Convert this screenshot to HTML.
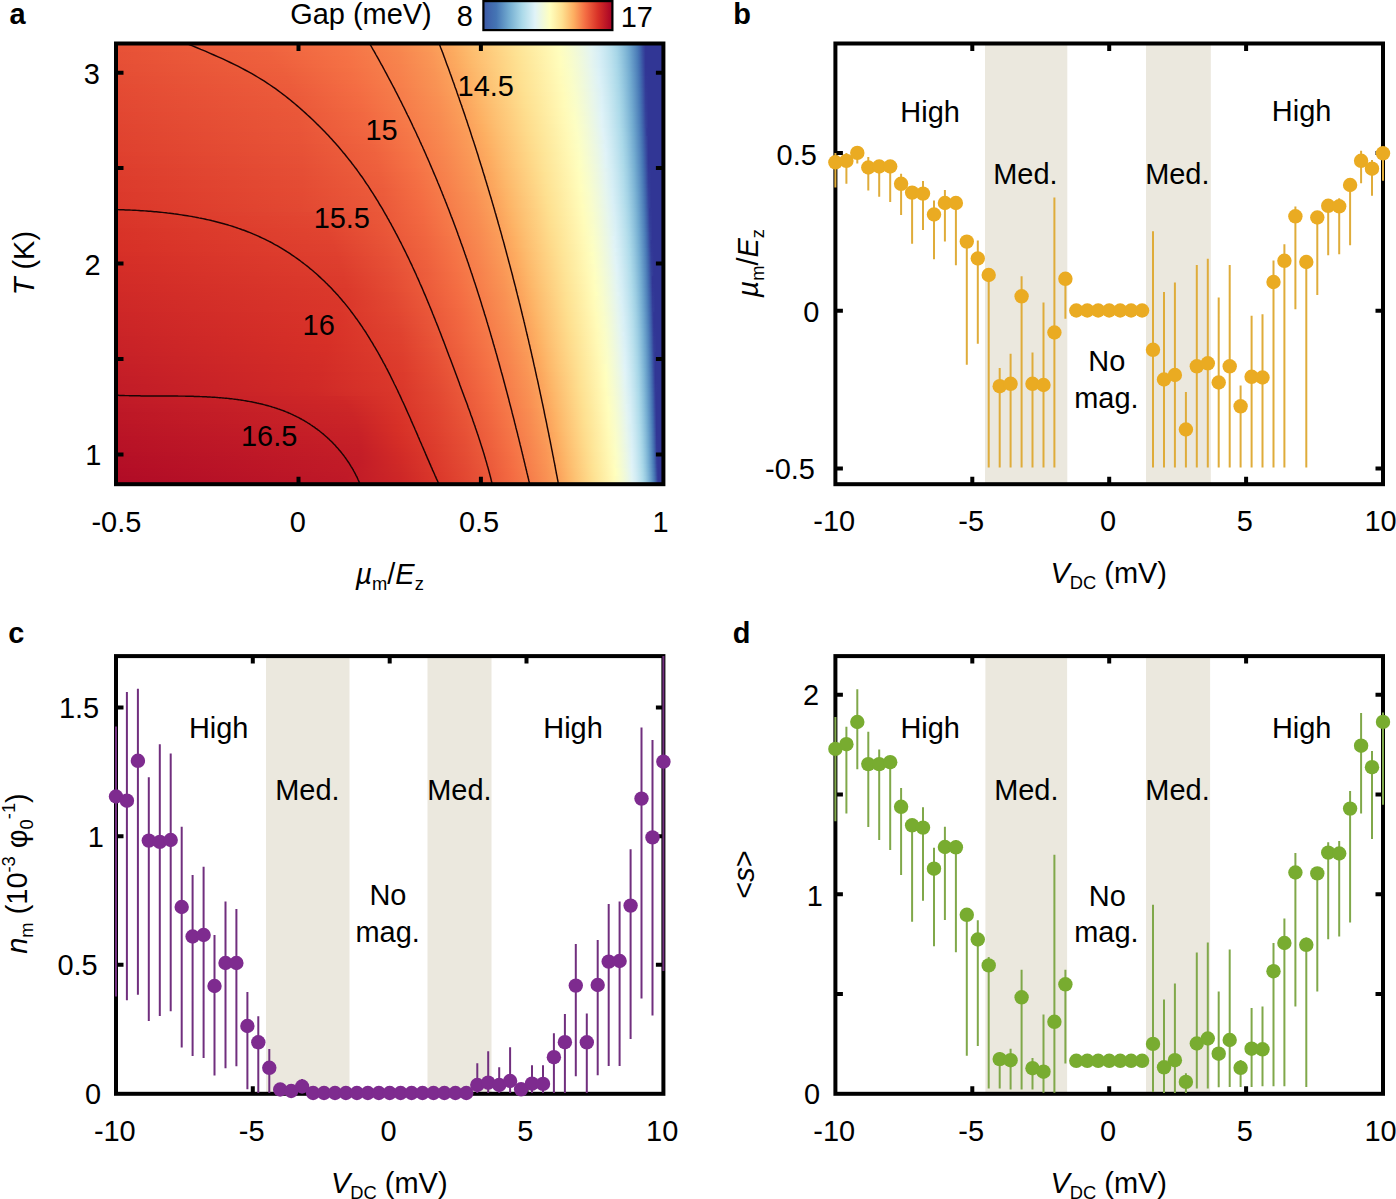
<!DOCTYPE html><html><head><meta charset="utf-8"><style>html,body{margin:0;padding:0;background:#fff;width:1396px;height:1199px;overflow:hidden}#hm{position:absolute;left:116.0px;top:0;width:547.4px}#hm div{position:absolute;left:0;width:100%}svg{position:absolute;left:0;top:0}text{font-family:"Liberation Sans",sans-serif;fill:#000}</style></head><body>
<div id="hm">
<div style="top:43.50px;height:4.60px;background:linear-gradient(90deg,#e75236 0.0px,#ef633e 146.8px,#f57446 229.1px,#f8864f 282.6px,#fa9957 314.2px,#fdab60 336.1px,#fdba6c 351.2px,#fec879 367.7px,#fed787 385.5px,#fee496 402.0px,#feeda4 417.1px,#fff6b1 430.8px,#ffffc0 444.5px,#f6fbd0 455.5px,#ecf8e2 466.5px,#e2f4f4 476.1px,#d3ecf4 484.3px,#c2e4f0 491.2px,#b2ddeb 496.6px,#a0d0e4 502.1px,#8fc3dd 506.2px,#7db4d5 510.4px,#6aa1cb 514.5px,#578bbf 518.6px,#4a7bb7 521.3px,#4065ac 524.1px,#374a9f 526.8px,#313695 529.6px,#313695 533.7px,#313695 537.8px,#313695 543.3px,#313695 547.4px)"></div>
<div style="top:47.50px;height:4.60px;background:linear-gradient(90deg,#e75136 0.0px,#ef623e 150.9px,#f57346 230.5px,#f7864e 282.6px,#fa9957 315.5px,#fdab60 337.5px,#fdba6c 352.6px,#fec879 369.0px,#fed687 385.5px,#fee294 400.6px,#feeca2 415.7px,#fff4af 429.4px,#fffebd 443.1px,#f7fccd 454.1px,#eef8df 465.1px,#e4f5f1 474.7px,#d7eef5 482.9px,#c7e7f1 489.8px,#b8dfed 495.3px,#a6d5e7 500.8px,#96c8e0 504.9px,#84bad8 509.0px,#71a9cf 513.1px,#5f93c4 517.2px,#4b7cb7 521.3px,#4066ad 524.1px,#384ba0 526.8px,#313695 529.6px,#313695 533.7px,#313695 537.8px,#313695 543.3px,#313695 547.4px)"></div>
<div style="top:51.50px;height:4.60px;background:linear-gradient(90deg,#e65036 0.0px,#ee613e 153.7px,#f57346 231.9px,#f7854e 284.0px,#fa9757 315.5px,#fcaa5f 337.5px,#fdb96b 352.6px,#fdc778 369.0px,#fed586 385.5px,#fee293 400.6px,#feeba1 415.7px,#fff4ae 429.4px,#fffdbd 443.1px,#f8fccc 454.1px,#eef8de 465.1px,#e5f5f0 474.7px,#d8eff6 482.9px,#c7e7f1 489.8px,#b9e0ed 495.3px,#a7d6e7 500.8px,#97c9e0 504.9px,#85bbd8 509.0px,#72aad0 513.1px,#5f94c4 517.2px,#4c7db8 521.3px,#4167ad 524.1px,#384da0 526.8px,#313695 529.6px,#313695 533.7px,#313695 537.8px,#313695 543.3px,#313695 547.4px)"></div>
<div style="top:55.50px;height:4.60px;background:linear-gradient(90deg,#e65036 0.0px,#ee613d 156.4px,#f57245 231.9px,#f7844e 284.0px,#fa9757 316.9px,#fcaa5f 338.9px,#fdb96b 354.0px,#fec779 370.4px,#fed586 386.9px,#fee293 402.0px,#feeba1 417.1px,#fff4af 430.8px,#fffebd 444.5px,#f7fccd 455.5px,#eff9dd 465.1px,#e5f5ef 474.7px,#d8eff6 482.9px,#c8e7f1 489.8px,#bae0ed 495.3px,#a8d7e8 500.8px,#98cae1 504.9px,#86bcd9 509.0px,#73abd0 513.1px,#6095c5 517.2px,#4c7eb9 521.3px,#4168ae 524.1px,#394ea1 526.8px,#313695 529.6px,#313695 533.7px,#313695 537.8px,#313695 543.3px,#313695 547.4px)"></div>
<div style="top:59.50px;height:4.60px;background:linear-gradient(90deg,#e64f35 0.0px,#ee603d 160.5px,#f57145 233.2px,#f7844d 284.0px,#fa9656 316.9px,#fcaa5f 340.2px,#fdb96b 355.3px,#fec779 371.8px,#fed586 388.3px,#fee293 403.3px,#feeca2 418.4px,#fff5af 432.2px,#fffdbd 444.5px,#f8fccc 455.5px,#eff9dc 465.1px,#e6f5ee 474.7px,#d9f0f6 482.9px,#c9e8f2 489.8px,#bbe1ed 495.3px,#a9d7e8 500.8px,#99cbe1 504.9px,#87bcd9 509.0px,#74acd1 513.1px,#6196c5 517.2px,#4d7fb9 521.3px,#416aae 524.1px,#394fa2 526.8px,#313695 529.6px,#313695 533.7px,#313695 537.8px,#313695 543.3px,#313695 547.4px)"></div>
<div style="top:63.50px;height:4.60px;background:linear-gradient(90deg,#e54e35 0.0px,#ee5f3d 163.3px,#f57145 234.6px,#f7834d 285.4px,#fa9656 318.3px,#fcaa5f 341.6px,#fdb96b 356.7px,#fec779 373.2px,#fed686 389.6px,#fee294 404.7px,#feeba1 418.4px,#fff4af 432.2px,#fffdbc 444.5px,#f8fccb 455.5px,#f0f9db 465.1px,#e6f5ed 474.7px,#daf0f6 482.9px,#cae8f2 489.8px,#bce1ee 495.3px,#aad8e9 500.8px,#9bcce2 504.9px,#88bdda 509.0px,#75add1 513.1px,#6297c6 517.2px,#4e80ba 521.3px,#426baf 524.1px,#3951a2 526.8px,#313695 529.6px,#313695 533.7px,#313695 537.8px,#313695 543.3px,#313695 547.4px)"></div>
<div style="top:67.50px;height:4.60px;background:linear-gradient(90deg,#e54e35 0.0px,#ed5f3c 166.0px,#f47044 234.6px,#f7824d 284.0px,#f99455 316.9px,#fca75e 340.2px,#fdb669 355.3px,#fdc577 371.8px,#fed484 388.3px,#fee192 403.3px,#feeba0 418.4px,#fff4ae 432.2px,#fffcbb 444.5px,#f9fdca 455.5px,#f0f9da 465.1px,#e7f6ec 474.7px,#dbf1f7 482.9px,#cbe9f2 489.8px,#bde2ee 495.3px,#abd9e9 500.8px,#9ccde2 504.9px,#8abeda 509.0px,#76aed2 513.1px,#6398c6 517.2px,#4f81ba 521.3px,#426cb0 524.1px,#3a52a3 526.8px,#313795 529.6px,#313695 533.7px,#313695 537.8px,#313695 543.3px,#313695 547.4px)"></div>
<div style="top:71.50px;height:4.60px;background:linear-gradient(90deg,#e54d34 0.0px,#ed5e3c 168.7px,#f46f44 236.0px,#f7824d 285.4px,#f99455 318.3px,#fca65e 341.6px,#fdb669 356.7px,#fdc577 373.2px,#fed485 389.6px,#fee192 404.7px,#feea9f 418.4px,#fff3ad 432.2px,#fffcba 444.5px,#f9fdc9 455.5px,#f1f9d9 465.1px,#e7f6eb 474.7px,#dcf1f7 482.9px,#cce9f2 489.8px,#bae0ed 496.6px,#a7d6e7 502.1px,#97c9e0 506.2px,#84bad8 510.4px,#70a9cf 514.5px,#5d92c3 518.6px,#5082bb 521.3px,#436db0 524.1px,#3a53a3 526.8px,#313796 529.6px,#313695 533.7px,#313695 537.8px,#313695 543.3px,#313695 547.4px)"></div>
<div style="top:75.50px;height:4.60px;background:linear-gradient(90deg,#e44c34 0.0px,#ed5d3c 171.5px,#f46f44 237.3px,#f7814c 285.4px,#f99355 318.3px,#fca55d 341.6px,#fdb568 356.7px,#fdc375 371.8px,#fed282 388.3px,#fee090 403.3px,#fee99d 417.1px,#fff2ab 430.8px,#fffab8 443.1px,#fbfdc6 454.1px,#f1fad8 465.1px,#e8f6ea 474.7px,#ddf2f7 482.9px,#cdeaf3 489.8px,#bbe1ed 496.6px,#a8d7e8 502.1px,#98cae1 506.2px,#85bbd9 510.4px,#71aacf 514.5px,#5e93c4 518.6px,#5183bb 521.3px,#436fb1 524.1px,#3b55a4 526.8px,#323896 529.6px,#313695 533.7px,#313695 537.8px,#313695 543.3px,#313695 547.4px)"></div>
<div style="top:79.50px;height:4.60px;background:linear-gradient(90deg,#e44c34 0.0px,#ec5d3b 172.9px,#f46e43 238.7px,#f7814c 286.7px,#f99354 319.7px,#fca55d 343.0px,#fdb568 358.1px,#fdc375 373.2px,#fed283 389.6px,#fee090 404.7px,#fee99d 418.4px,#fff2ab 432.2px,#fffbb9 444.5px,#fafdc7 455.5px,#f2fad7 465.1px,#e8f6e9 474.7px,#def2f7 482.9px,#ceeaf3 489.8px,#bbe1ee 496.6px,#aad8e8 502.1px,#99cbe1 506.2px,#87bcd9 510.4px,#72abd0 514.5px,#5f94c4 518.6px,#5284bc 521.3px,#4370b2 524.1px,#3b56a5 526.8px,#323997 529.6px,#313695 532.3px,#313695 536.4px,#313695 540.5px,#313695 547.4px)"></div>
<div style="top:83.50px;height:4.60px;background:linear-gradient(90deg,#e44b33 0.0px,#ec5c3b 175.6px,#f46d43 240.1px,#f7804c 286.7px,#f99354 321.0px,#fca55d 344.4px,#fdb568 359.4px,#fdc375 374.5px,#fed283 391.0px,#fee091 406.1px,#fee99e 419.8px,#fff2ac 433.5px,#fffbb9 445.9px,#fafdc9 456.9px,#f1fad9 466.5px,#e7f6eb 476.1px,#dcf1f7 484.3px,#cce9f2 491.2px,#bce2ee 496.6px,#abd9e9 502.1px,#9acce2 506.2px,#88bdda 510.4px,#73acd0 514.5px,#6095c5 518.6px,#5285bc 521.3px,#4471b2 524.1px,#3c57a5 526.8px,#323a97 529.6px,#313695 532.3px,#313695 536.4px,#313695 540.5px,#313695 547.4px)"></div>
<div style="top:87.50px;height:4.60px;background:linear-gradient(90deg,#e44a33 0.0px,#ec5b3b 177.0px,#f46c43 240.1px,#f67f4b 286.7px,#f99254 321.0px,#fca55d 345.7px,#fdb568 360.8px,#fdc475 375.9px,#fed283 392.4px,#fee191 407.5px,#feea9e 421.2px,#fff3ad 434.9px,#fffcba 447.2px,#f9fdca 458.2px,#f0f9da 467.8px,#e6f5ed 477.4px,#daf0f6 485.7px,#c9e8f1 492.5px,#b9e0ed 498.0px,#a7d5e7 503.5px,#96c8e0 507.6px,#82b8d7 511.7px,#6ea6cd 515.8px,#6196c5 518.6px,#5386bd 521.3px,#4473b3 524.1px,#3c59a6 526.8px,#333b97 529.6px,#313695 532.3px,#313695 536.4px,#313695 540.5px,#313695 547.4px)"></div>
<div style="top:91.50px;height:4.60px;background:linear-gradient(90deg,#e34a33 0.0px,#eb5b3b 178.4px,#f36c42 241.5px,#f67e4b 286.7px,#f99153 321.0px,#fca45c 345.7px,#fdb467 360.8px,#fdc374 375.9px,#fed182 392.4px,#fee090 407.5px,#fee99e 421.2px,#fff2ac 434.9px,#fffbb9 447.2px,#fafdc9 458.2px,#f1f9d9 467.8px,#e7f6ec 477.4px,#dbf0f6 485.7px,#cae8f2 492.5px,#bae1ed 498.0px,#a8d6e8 503.5px,#97c9e0 507.6px,#83b9d8 511.7px,#6fa7ce 515.8px,#6297c6 518.6px,#5487bd 521.3px,#4574b4 524.1px,#3c5aa7 526.8px,#333c98 529.6px,#313695 532.3px,#313695 536.4px,#313695 540.5px,#313695 547.4px)"></div>
<div style="top:95.50px;height:4.60px;background:linear-gradient(90deg,#e34933 0.0px,#eb5a3a 179.7px,#f36b42 242.8px,#f67e4b 288.1px,#f99053 322.4px,#fca45c 347.1px,#fdb467 362.2px,#fdc375 377.3px,#fed283 393.7px,#fee090 408.8px,#fee99e 422.6px,#fff3ac 436.3px,#fffcba 448.6px,#f9fdca 459.6px,#f0f9db 469.2px,#e7f6eb 477.4px,#dcf1f7 485.7px,#cbe9f2 492.5px,#bbe1ee 498.0px,#a9d7e8 503.5px,#98cae1 507.6px,#84bad8 511.7px,#70a8ce 515.8px,#6398c6 518.6px,#5588be 521.3px,#4575b4 524.1px,#3d5ba7 526.8px,#333d98 529.6px,#313695 532.3px,#313695 536.4px,#313695 540.5px,#313695 547.4px)"></div>
<div style="top:99.50px;height:4.60px;background:linear-gradient(90deg,#e34832 0.0px,#eb593a 181.1px,#f36b42 244.2px,#f67d4a 288.1px,#f98f53 322.4px,#fba25c 347.1px,#fdb366 362.2px,#fdc274 377.3px,#fed182 393.7px,#fee090 408.8px,#fee99d 422.6px,#fff2ac 436.3px,#fffbb9 448.6px,#f9fdc9 459.6px,#f0f9da 469.2px,#e8f6ea 477.4px,#dcf1f7 485.7px,#cce9f2 492.5px,#bce2ee 498.0px,#aad8e8 503.5px,#99cbe1 507.6px,#86bbd9 511.7px,#71a9cf 515.8px,#6399c7 518.6px,#5689be 521.3px,#4676b5 524.1px,#3d5ca8 526.8px,#343e99 529.6px,#313695 532.3px,#313695 536.4px,#313695 540.5px,#313695 547.4px)"></div>
<div style="top:103.50px;height:4.60px;background:linear-gradient(90deg,#e24832 0.0px,#ea593a 181.1px,#f36a42 245.6px,#f67c4a 288.1px,#f98e52 322.4px,#fba15b 347.1px,#fdb366 363.6px,#fdc274 378.7px,#fed081 393.7px,#fedf8f 408.8px,#fee89c 422.6px,#fff2ab 436.3px,#fffbb9 448.6px,#fafdc8 459.6px,#f1fad9 469.2px,#e8f6e9 477.4px,#ddf2f7 485.7px,#cdeaf3 492.5px,#bde2ee 498.0px,#abd9e9 503.5px,#9acce2 507.6px,#87bcd9 511.7px,#72aad0 515.8px,#649ac7 518.6px,#578abf 521.3px,#4778b5 524.1px,#3e5ea9 526.8px,#343f9a 529.6px,#313695 532.3px,#313695 536.4px,#313695 540.5px,#313695 547.4px)"></div>
<div style="top:107.50px;height:4.60px;background:linear-gradient(90deg,#e24732 0.0px,#ea5839 182.5px,#f26a41 246.9px,#f67c4a 289.5px,#f98e52 323.8px,#fba15b 348.5px,#fdb366 364.9px,#fdc274 380.0px,#fed081 395.1px,#fedf8f 410.2px,#fee99d 423.9px,#fff1aa 436.3px,#fffab8 448.6px,#fbfdc7 459.6px,#f1fad8 469.2px,#e9f6e8 477.4px,#def2f8 485.7px,#ceeaf3 492.5px,#bee2ee 498.0px,#acdae9 503.5px,#9bcde2 507.6px,#88bdda 511.7px,#73abd0 515.8px,#659bc8 518.6px,#588bbf 521.3px,#4879b6 524.1px,#3e5fa9 526.8px,#34409a 529.6px,#313695 532.3px,#313695 536.4px,#313695 540.5px,#313695 547.4px)"></div>
<div style="top:111.50px;height:4.60px;background:linear-gradient(90deg,#e24631 0.0px,#ea5739 182.5px,#f26841 246.9px,#f67b49 289.5px,#f88d52 323.8px,#fba05a 348.5px,#fdb265 364.9px,#fdc072 378.7px,#fece7f 393.7px,#fedd8d 408.8px,#fee79b 422.6px,#fff0a8 434.9px,#fff9b5 447.2px,#fcfec4 458.2px,#f3fad4 467.8px,#e9f7e7 477.4px,#dff3f8 485.7px,#cfebf3 492.5px,#bfe3ef 498.0px,#addaea 503.5px,#9dcde3 507.6px,#89beda 511.7px,#74add1 515.8px,#669dc8 518.6px,#588cc0 521.3px,#497ab7 524.1px,#3e60aa 526.8px,#35429b 529.6px,#313695 532.3px,#313695 536.4px,#313695 540.5px,#313695 547.4px)"></div>
<div style="top:115.50px;height:4.60px;background:linear-gradient(90deg,#e14631 0.0px,#e95739 182.5px,#f26841 248.3px,#f67a49 289.5px,#f88c51 323.8px,#fb9f5a 348.5px,#fdb163 364.9px,#fdbf71 378.7px,#fecd7e 393.7px,#fedc8c 408.8px,#fee69a 422.6px,#feefa7 434.9px,#fff8b5 447.2px,#fdfec3 458.2px,#f4fbd3 467.8px,#eaf7e6 477.4px,#e0f3f8 485.7px,#d0ebf3 492.5px,#c0e3ef 498.0px,#aedbea 503.5px,#9ecee3 507.6px,#8abfdb 511.7px,#75aed1 515.8px,#679ec9 518.6px,#598dc1 521.3px,#4a7bb7 524.1px,#3f62aa 526.8px,#35439b 529.6px,#313695 532.3px,#313695 536.4px,#313695 540.5px,#313695 547.4px)"></div>
<div style="top:119.50px;height:4.60px;background:linear-gradient(90deg,#e14531 0.0px,#e95638 182.5px,#f16740 249.7px,#f67a49 290.8px,#f88c51 325.1px,#fb9f5a 349.8px,#fdb164 366.3px,#fdbf71 380.0px,#fecd7e 395.1px,#fedc8c 410.2px,#fee79a 423.9px,#fff0a8 436.3px,#fff9b6 448.6px,#fcfec4 459.6px,#f3fad5 469.2px,#eaf7e5 477.4px,#e1f3f7 485.7px,#d1ecf4 492.5px,#c1e4ef 498.0px,#afdbea 503.5px,#9fcfe4 507.6px,#8cc0db 511.7px,#76afd2 515.8px,#689fca 518.6px,#5a8ec1 521.3px,#4b7cb8 524.1px,#3f63ab 526.8px,#36459c 529.6px,#313695 532.3px,#313695 535.1px,#313695 539.2px,#313695 544.7px,#313695 547.4px)"></div>
<div style="top:123.50px;height:4.60px;background:linear-gradient(90deg,#e14430 0.0px,#e95638 183.8px,#f16740 251.1px,#f67948 290.8px,#f88b51 325.1px,#fb9d59 349.8px,#fdaf62 366.3px,#fdbe70 380.0px,#fecc7d 395.1px,#fedb8b 410.2px,#fee699 423.9px,#feefa7 436.3px,#fff8b5 448.6px,#fdfec3 459.6px,#f4fbd4 469.2px,#ebf7e4 477.4px,#e1f3f6 485.7px,#d2ecf4 492.5px,#c2e4f0 498.0px,#b0dceb 503.5px,#a0d0e4 507.6px,#8dc1dc 511.7px,#77b0d2 515.8px,#69a0ca 518.6px,#5b90c2 521.3px,#4c7eb8 524.1px,#4065ac 526.8px,#36469d 529.6px,#313695 532.3px,#313695 535.1px,#313695 539.2px,#313695 544.7px,#313695 547.4px)"></div>
<div style="top:127.50px;height:4.60px;background:linear-gradient(90deg,#e04430 0.0px,#e95538 183.8px,#f16640 252.4px,#f67848 292.2px,#f88b51 326.5px,#fb9d59 351.2px,#fdb062 367.7px,#fdbe70 381.4px,#fecd7e 396.5px,#fedc8c 411.6px,#fee79a 425.3px,#feefa7 437.6px,#fff9b6 450.0px,#fcfec5 461.0px,#f3fad5 470.6px,#eaf7e6 478.8px,#e0f3f8 487.0px,#cfebf3 493.9px,#bfe3ef 499.4px,#addae9 504.9px,#9bcde2 509.0px,#87bcd9 513.1px,#71aacf 517.2px,#6399c7 520.0px,#5588be 522.7px,#4574b4 525.4px,#3c58a6 528.2px,#323997 530.9px,#313695 533.7px,#313695 537.8px,#313695 541.9px,#313695 547.4px)"></div>
<div style="top:131.50px;height:4.60px;background:linear-gradient(90deg,#e04330 0.0px,#e85438 183.8px,#f06640 253.8px,#f57748 292.2px,#f88a50 326.5px,#fb9c59 351.2px,#fdae61 367.7px,#fdbd6f 381.4px,#fecc7d 396.5px,#fedb8b 411.6px,#fee699 425.3px,#feefa7 437.6px,#fff8b5 450.0px,#fdfec4 461.0px,#f3fad4 470.6px,#ebf7e5 478.8px,#e1f3f7 487.0px,#d0ebf4 493.9px,#c0e4ef 499.4px,#aedaea 504.9px,#9dcee3 509.0px,#89beda 513.1px,#72abd0 517.2px,#649bc7 520.0px,#5689bf 522.7px,#4676b4 525.4px,#3c5aa7 528.2px,#323a97 530.9px,#313695 533.7px,#313695 537.8px,#313695 541.9px,#313695 547.4px)"></div>
<div style="top:135.50px;height:4.60px;background:linear-gradient(90deg,#e0432f 0.0px,#e85437 183.8px,#f0643f 253.8px,#f57647 292.2px,#f88950 326.5px,#fb9c59 352.6px,#fdae61 369.0px,#fdbd6f 382.8px,#fecc7d 397.9px,#fedb8b 413.0px,#fee69a 426.7px,#feefa7 439.0px,#fff9b6 451.4px,#fcfec5 462.3px,#f2fad6 471.9px,#eaf7e7 480.2px,#dff2f8 488.4px,#ceeaf3 495.3px,#bde2ee 500.8px,#aad8e8 506.2px,#98cae1 510.4px,#83b9d7 514.5px,#6da4cc 518.6px,#5e93c4 521.3px,#5082ba 524.1px,#426aaf 526.8px,#384ca0 529.6px,#313695 532.3px,#313695 535.1px,#313695 539.2px,#313695 544.7px,#313695 547.4px)"></div>
<div style="top:139.50px;height:4.60px;background:linear-gradient(90deg,#df422f 0.0px,#e85337 183.8px,#f0643f 255.2px,#f57647 293.6px,#f88850 326.5px,#fa9b58 352.6px,#fdaf62 370.4px,#fdbd6f 384.1px,#fecc7d 399.2px,#fedc8c 414.3px,#fee79a 428.0px,#fff0a8 440.4px,#fff9b6 452.7px,#fbfec6 463.7px,#f2fad8 473.3px,#e8f6e8 481.5px,#ddf1f7 489.8px,#cbe9f2 496.6px,#bae0ed 502.1px,#abd9e9 506.2px,#99cbe1 510.4px,#84bad8 514.5px,#6ea6cd 518.6px,#6095c4 521.3px,#5183bb 524.1px,#426caf 526.8px,#394ea1 529.6px,#313695 532.3px,#313695 535.1px,#313695 539.2px,#313695 544.7px,#313695 547.4px)"></div>
<div style="top:143.50px;height:4.60px;background:linear-gradient(90deg,#df412f 0.0px,#e75237 185.2px,#ef633f 256.6px,#f57547 293.6px,#f8874f 326.5px,#fa9a58 352.6px,#fdad61 370.4px,#fdbc6e 384.1px,#fecb7c 399.2px,#fed98a 413.0px,#fee598 426.7px,#feeea6 439.0px,#fff8b4 451.4px,#fdfec3 462.3px,#f4fbd4 471.9px,#ebf7e4 480.2px,#e0f3f7 488.4px,#d0ebf3 495.3px,#bfe3ef 500.8px,#acdae9 506.2px,#9acce2 510.4px,#85bbd9 514.5px,#6fa7ce 518.6px,#6196c5 521.3px,#5284bc 524.1px,#436eb0 526.8px,#3950a2 529.6px,#313695 532.3px,#313695 535.1px,#313695 539.2px,#313695 544.7px,#313695 547.4px)"></div>
<div style="top:147.50px;height:4.60px;background:linear-gradient(90deg,#df412f 0.0px,#e75236 185.2px,#ef633e 257.9px,#f57546 295.0px,#f8874f 327.9px,#fa9a58 354.0px,#fdad61 371.8px,#fdbc6f 385.5px,#fecc7d 400.6px,#feda8a 414.3px,#fee698 428.0px,#feefa6 440.4px,#fff8b5 452.7px,#fcfec4 463.7px,#f3fad6 473.3px,#eaf7e6 481.5px,#dff2f8 489.8px,#cdeaf3 496.6px,#bce1ee 502.1px,#addaea 506.2px,#9ccde2 510.4px,#87bcd9 514.5px,#70a8cf 518.6px,#6297c6 521.3px,#5386bd 524.1px,#436fb1 526.8px,#3a52a3 529.6px,#313695 532.3px,#313695 535.1px,#313695 539.2px,#313695 544.7px,#313695 547.4px)"></div>
<div style="top:151.50px;height:4.60px;background:linear-gradient(90deg,#df402e 0.0px,#e75136 185.2px,#ef623e 259.3px,#f57446 296.3px,#f8874f 329.3px,#fa9a58 355.3px,#fdae61 373.2px,#fdbd6f 386.9px,#fecc7d 402.0px,#feda8a 415.7px,#fee597 428.0px,#feeea5 440.4px,#fff8b4 452.7px,#fdfec3 463.7px,#f3fad5 473.3px,#eaf7e5 481.5px,#e0f3f8 489.8px,#ceeaf3 496.6px,#bde2ee 502.1px,#a9d7e8 507.6px,#96c9e0 511.7px,#81b7d7 515.8px,#71aacf 518.6px,#6399c6 521.3px,#5487bd 524.1px,#4471b2 526.8px,#3a53a4 529.6px,#313695 532.3px,#313695 535.1px,#313695 539.2px,#313695 543.3px,#313695 547.4px)"></div>
<div style="top:155.50px;height:4.60px;background:linear-gradient(90deg,#de3f2e 0.0px,#e65036 185.2px,#ef623e 260.7px,#f57346 296.3px,#f7864f 329.3px,#fa9957 355.3px,#fdac60 373.2px,#fdbc6e 386.9px,#feca7b 400.6px,#fed888 414.3px,#fee497 428.0px,#feeea5 440.4px,#fff7b3 452.7px,#fdfec2 463.7px,#f4fbd4 473.3px,#ebf7e4 481.5px,#e0f3f7 489.8px,#cfebf3 496.6px,#bee2ee 502.1px,#aad8e9 507.6px,#98cae1 511.7px,#82b8d7 515.8px,#73abd0 518.6px,#649ac7 521.3px,#5588be 524.1px,#4473b3 526.8px,#3b55a4 529.6px,#313695 532.3px,#313695 535.1px,#313695 537.8px,#313695 541.9px,#313695 547.4px)"></div>
<div style="top:159.50px;height:4.60px;background:linear-gradient(90deg,#de3f2e 0.0px,#e65036 185.2px,#ee613d 260.7px,#f57245 296.3px,#f7844e 327.9px,#fa9756 354.0px,#fdaa5f 373.2px,#fdba6d 386.9px,#fec97a 400.6px,#fed787 414.3px,#fee496 428.0px,#feeda4 440.4px,#fff7b2 452.7px,#feffc1 463.7px,#f4fbd3 473.3px,#ebf7e3 481.5px,#e1f3f6 489.8px,#d0ebf3 496.6px,#bfe3ef 502.1px,#abd9e9 507.6px,#99cbe1 511.7px,#83b9d8 515.8px,#74add1 518.6px,#659bc8 521.3px,#5689bf 524.1px,#4575b4 526.8px,#3c57a5 529.6px,#313795 532.3px,#313695 535.1px,#313695 537.8px,#313695 541.9px,#313695 547.4px)"></div>
<div style="top:163.50px;height:4.60px;background:linear-gradient(90deg,#de3e2d 0.0px,#e64f35 185.2px,#ee603d 262.0px,#f57245 297.7px,#f7844e 329.3px,#fa9756 355.3px,#fca95f 373.2px,#fdb96c 386.9px,#fec879 400.6px,#fed686 414.3px,#fee395 428.0px,#feeca3 440.4px,#fff6b2 452.7px,#feffc0 463.7px,#f5fbd1 473.3px,#ecf8e2 481.5px,#e1f4f5 489.8px,#d1ecf4 496.6px,#c0e4ef 502.1px,#addae9 507.6px,#9acce2 511.7px,#85bad8 515.8px,#75aed1 518.6px,#669dc9 521.3px,#578bbf 524.1px,#4676b5 526.8px,#3c59a6 529.6px,#323896 532.3px,#313695 535.1px,#313695 537.8px,#313695 541.9px,#313695 547.4px)"></div>
<div style="top:167.50px;height:4.60px;background:linear-gradient(90deg,#dd3d2d 0.0px,#e54e35 185.2px,#ee603d 263.4px,#f57145 299.1px,#f7844e 330.6px,#fa9756 356.7px,#fca95f 374.5px,#fdb96c 388.3px,#fec879 402.0px,#fed687 415.7px,#fee394 428.0px,#feeca2 440.4px,#fff4af 451.4px,#fffebd 462.3px,#f7fcce 471.9px,#eef8de 480.2px,#e4f4f1 488.4px,#d6eef5 495.3px,#c6e6f1 500.8px,#b3ddeb 506.2px,#a2d2e5 510.4px,#8ec2dc 514.5px,#76afd2 518.6px,#679ec9 521.3px,#588cc0 524.1px,#4778b5 526.8px,#3d5ba7 529.6px,#323997 532.3px,#313695 535.1px,#313695 537.8px,#313695 541.9px,#313695 547.4px)"></div>
<div style="top:171.50px;height:4.60px;background:linear-gradient(90deg,#dd3d2d 0.0px,#e54e35 185.2px,#ed5f3c 263.4px,#f47044 299.1px,#f7834d 330.6px,#fa9656 356.7px,#fca95f 375.9px,#fdba6c 389.6px,#fec87a 403.3px,#fed787 417.1px,#fee394 429.4px,#feeca3 441.8px,#fff5b0 452.7px,#fffebe 463.7px,#f6fccf 473.3px,#edf8e0 481.5px,#e3f4f3 489.8px,#d3edf4 496.6px,#c3e5f0 502.1px,#afdbea 507.6px,#9dcee3 511.7px,#88bdda 515.8px,#78b0d3 518.6px,#699fca 521.3px,#598dc1 524.1px,#4979b6 526.8px,#3d5da8 529.6px,#333b97 532.3px,#313695 535.1px,#313695 537.8px,#313695 541.9px,#313695 547.4px)"></div>
<div style="top:175.50px;height:4.60px;background:linear-gradient(90deg,#dd3c2c 0.0px,#e54d34 185.2px,#ed5e3c 264.8px,#f47044 300.5px,#f7824d 330.6px,#f99555 356.7px,#fca85e 375.9px,#fdb96b 389.6px,#fec779 403.3px,#fed686 417.1px,#fee294 429.4px,#feeca2 441.8px,#fff4af 452.7px,#fffebd 463.7px,#f7fcce 473.3px,#edf8df 481.5px,#e3f4f2 489.8px,#d4edf5 496.6px,#c4e5f0 502.1px,#b0dceb 507.6px,#9ecfe4 511.7px,#89beda 515.8px,#79b1d3 518.6px,#6aa1cb 521.3px,#5b8fc1 524.1px,#4a7bb7 526.8px,#3e5ea9 529.6px,#333c98 532.3px,#313695 535.1px,#313695 537.8px,#313695 541.9px,#313695 547.4px)"></div>
<div style="top:179.50px;height:4.60px;background:linear-gradient(90deg,#dc3b2c 0.0px,#e44c34 185.2px,#ed5e3c 266.2px,#f46f44 301.8px,#f7824d 332.0px,#f99555 358.1px,#fca85e 377.3px,#fdb76a 389.6px,#fdc678 403.3px,#fed585 417.1px,#fee293 429.4px,#feeba1 441.8px,#fff4ae 452.7px,#fffdbd 463.7px,#f7fccd 473.3px,#eef8de 481.5px,#e4f4f1 489.8px,#d5eef5 496.6px,#c5e6f0 502.1px,#b2dceb 507.6px,#a0d0e4 511.7px,#8abfdb 515.8px,#7bb2d4 518.6px,#6ba2cb 521.3px,#5c90c2 524.1px,#4b7cb8 526.8px,#3e60aa 529.6px,#343e99 532.3px,#313695 535.1px,#313695 537.8px,#313695 541.9px,#313695 547.4px)"></div>
<div style="top:183.50px;height:4.60px;background:linear-gradient(90deg,#dc3b2c 0.0px,#e44c34 185.2px,#ec5d3c 266.2px,#f46e44 301.8px,#f7814c 332.0px,#f99455 358.1px,#fca75e 377.3px,#fdb86a 391.0px,#fdc778 404.7px,#fed586 418.4px,#fee293 430.8px,#feeca2 443.1px,#fff5af 454.1px,#fffebe 465.1px,#f6fccf 474.7px,#edf8e0 482.9px,#e4f5f0 489.8px,#d6eef5 496.6px,#c6e6f1 502.1px,#b3ddeb 507.6px,#a1d1e5 511.7px,#8cc0db 515.8px,#7cb3d5 518.6px,#6ca4cc 521.3px,#5d91c3 524.1px,#4c7eb8 526.8px,#3f62ab 529.6px,#34409a 532.3px,#313695 535.1px,#313695 537.8px,#313695 541.9px,#313695 547.4px)"></div>
<div style="top:187.50px;height:4.60px;background:linear-gradient(90deg,#dc3a2c 0.0px,#e44b33 185.2px,#ec5c3b 267.5px,#f46e43 303.2px,#f7814c 333.4px,#f99455 359.4px,#fca75e 378.7px,#fdb669 391.0px,#fdc677 404.7px,#fed485 418.4px,#fee292 430.8px,#feeba1 443.1px,#fff4ae 454.1px,#fffebd 465.1px,#f7fcce 474.7px,#eef8df 482.9px,#e5f5ef 489.8px,#d7eff6 496.6px,#c7e7f1 502.1px,#b4ddec 507.6px,#a2d2e5 511.7px,#8dc1dc 515.8px,#7db5d5 518.6px,#6da5cd 521.3px,#5e93c3 524.1px,#4d7fb9 526.8px,#4064ac 529.6px,#35429b 532.3px,#313695 535.1px,#313695 537.8px,#313695 541.9px,#313695 547.4px)"></div>
<div style="top:191.50px;height:4.60px;background:linear-gradient(90deg,#db392b 0.0px,#e44a33 185.2px,#ec5c3b 267.5px,#f46d43 303.2px,#f67f4b 332.0px,#f99154 358.1px,#fca45c 377.3px,#fdb568 391.0px,#fdc375 403.3px,#fed283 417.1px,#fee090 429.4px,#fee99e 441.8px,#fff2ac 452.7px,#fffcba 463.7px,#f9fdca 473.3px,#f0f9db 481.5px,#e5f5ee 489.8px,#d8eff6 496.6px,#c8e7f1 502.1px,#b5deec 507.6px,#a4d3e6 511.7px,#8fc2dd 515.8px,#7fb6d6 518.6px,#6fa7ce 521.3px,#5f94c4 524.1px,#4f80ba 526.8px,#4066ac 529.6px,#35439c 532.3px,#313695 535.1px,#313695 537.8px,#313695 541.9px,#313695 547.4px)"></div>
<div style="top:195.50px;height:4.60px;background:linear-gradient(90deg,#db392b 0.0px,#e34a33 185.2px,#eb5b3b 267.5px,#f46d43 304.6px,#f67f4b 333.4px,#f99154 359.4px,#fca45c 378.7px,#fdb668 392.4px,#fdc375 404.7px,#fed283 418.4px,#fee090 430.8px,#feea9f 443.1px,#fff3ad 454.1px,#fffcbb 465.1px,#f8fccc 474.7px,#eff9dd 482.9px,#e6f5ed 489.8px,#d9f0f6 496.6px,#c9e8f2 502.1px,#b6dfec 507.6px,#a5d4e6 511.7px,#90c3dd 515.8px,#80b7d6 518.6px,#70a8ce 521.3px,#6095c5 524.1px,#5082bb 526.8px,#4168ad 529.6px,#36459d 532.3px,#313695 535.1px,#313695 537.8px,#313695 541.9px,#313695 547.4px)"></div>
<div style="top:199.50px;height:4.60px;background:linear-gradient(90deg,#db382b 0.0px,#e34932 183.8px,#eb5a3a 267.5px,#f36b42 304.6px,#f67e4b 333.4px,#f99053 359.4px,#fba25c 378.7px,#fdb467 392.4px,#fdc274 404.7px,#fed182 418.4px,#fee090 430.8px,#fee99e 443.1px,#fff2ac 454.1px,#fffcba 465.1px,#f9fccb 474.7px,#eff9dc 482.9px,#e7f6ec 489.8px,#daf0f6 496.6px,#cae8f2 502.1px,#b7dfed 507.6px,#a6d5e7 511.7px,#92c5de 515.8px,#82b8d7 518.6px,#71aacf 521.3px,#6197c6 524.1px,#5183bb 526.8px,#416aae 529.6px,#37479e 532.3px,#313695 535.1px,#313695 537.8px,#313695 540.5px,#313695 544.7px,#313695 547.4px)"></div>
<div style="top:203.50px;height:4.60px;background:linear-gradient(90deg,#db372a 0.0px,#e34832 183.8px,#eb593a 267.5px,#f36b42 305.9px,#f67e4b 334.8px,#f99053 360.8px,#fba35c 380.0px,#fdb567 393.7px,#fdc375 406.1px,#fed283 419.8px,#fee090 432.2px,#feea9f 444.5px,#fff3ad 455.5px,#fffdbb 466.5px,#f8fccd 476.1px,#eef8de 484.3px,#e5f5ee 491.2px,#d8eff6 498.0px,#c7e7f1 503.5px,#b3ddeb 509.0px,#a1d1e5 513.1px,#8bc0db 517.2px,#7bb2d4 520.0px,#6ba2cb 522.7px,#5b8fc1 525.4px,#497ab6 528.2px,#3d5ba7 530.9px,#37499f 532.3px,#313695 535.1px,#313695 537.8px,#313695 540.5px,#313695 544.7px,#313695 547.4px)"></div>
<div style="top:207.50px;height:4.60px;background:linear-gradient(90deg,#da372a 0.0px,#e24832 183.8px,#ea593a 267.5px,#f36a42 305.9px,#f67d4a 334.8px,#f98f53 360.8px,#fba35c 381.4px,#fdb568 395.1px,#fdc375 407.5px,#fed283 421.2px,#fee191 433.5px,#fee99e 444.5px,#fff2ac 455.5px,#fffcbb 466.5px,#f8fccc 476.1px,#eff9dd 484.3px,#e6f5ed 491.2px,#d9eff6 498.0px,#c8e7f1 503.5px,#b5deec 509.0px,#a2d2e5 513.1px,#8dc1dc 517.2px,#7cb4d5 520.0px,#6ca3cc 522.7px,#5c90c2 525.4px,#4a7bb7 528.2px,#3d5da8 530.9px,#384ca0 532.3px,#323a97 533.7px,#313695 536.4px,#313695 539.2px,#313695 543.3px,#313695 547.4px)"></div>
<div style="top:211.50px;height:4.60px;background:linear-gradient(90deg,#da362a 0.0px,#e24732 194.8px,#ea5839 267.5px,#f36a42 307.3px,#f67d4a 336.1px,#f98f53 362.2px,#fba25b 381.4px,#fdb466 395.1px,#fdc274 407.5px,#fed182 421.2px,#fee090 433.5px,#fee99d 444.5px,#fff2ab 455.5px,#fffcba 466.5px,#f9fdca 476.1px,#eff9dc 484.3px,#e6f6ec 491.2px,#daf0f6 498.0px,#c9e8f2 503.5px,#b6deec 509.0px,#a4d3e6 513.1px,#8ec2dc 517.2px,#7eb5d5 520.0px,#6da5cd 522.7px,#5d91c3 525.4px,#4b7db8 528.2px,#3e5fa9 530.9px,#333b98 533.7px,#313695 536.4px,#313695 539.2px,#313695 543.3px,#313695 547.4px)"></div>
<div style="top:215.50px;height:4.60px;background:linear-gradient(90deg,#da3529 0.0px,#e24631 200.3px,#ea5839 267.5px,#f26941 307.3px,#f67c4a 336.1px,#f98e52 362.2px,#fba25b 382.8px,#fdb467 396.5px,#fdc374 408.8px,#fed283 422.6px,#fee091 434.9px,#fee99e 445.9px,#fff2ac 456.9px,#fffcbb 467.8px,#f8fccc 477.4px,#eef8de 485.7px,#e5f5ef 492.5px,#d7eff5 499.4px,#c6e6f1 504.9px,#b7dfec 509.0px,#a5d4e6 513.1px,#8fc3dd 517.2px,#7fb6d6 520.0px,#6ea6cd 522.7px,#5e93c3 525.4px,#4d7eb9 528.2px,#3f61aa 530.9px,#333d99 533.7px,#313695 536.4px,#313695 539.2px,#313695 543.3px,#313695 547.4px)"></div>
<div style="top:219.50px;height:4.60px;background:linear-gradient(90deg,#d93529 0.0px,#e14631 204.4px,#e95739 267.5px,#f26841 307.3px,#f67b49 336.1px,#f88d52 362.2px,#fba15b 382.8px,#fdb366 396.5px,#fdc273 408.8px,#fed182 422.6px,#fee090 434.9px,#fee99d 445.9px,#fff2ab 456.9px,#fffcba 467.8px,#f8fccb 477.4px,#eff9dd 485.7px,#e6f5ed 492.5px,#d8eff6 499.4px,#c7e7f1 504.9px,#b8dfed 509.0px,#a6d5e7 513.1px,#91c4de 517.2px,#81b7d6 520.0px,#6fa8ce 522.7px,#5f94c4 525.4px,#4e80ba 528.2px,#3f63ab 530.9px,#343f99 533.7px,#313695 536.4px,#313695 539.2px,#313695 543.3px,#313695 547.4px)"></div>
<div style="top:223.50px;height:4.60px;background:linear-gradient(90deg,#d93429 0.0px,#e14531 207.2px,#e95638 267.5px,#f16740 307.3px,#f67a49 336.1px,#f88c51 362.2px,#fb9f5a 382.8px,#fdb264 396.5px,#fdc172 408.8px,#fed081 422.6px,#fedf8f 434.9px,#fee89c 445.9px,#fff1aa 456.9px,#fffbb9 467.8px,#f9fdca 477.4px,#eff9dc 485.7px,#e6f5ec 492.5px,#d9f0f6 499.4px,#c8e7f1 504.9px,#b9e0ed 509.0px,#a8d6e8 513.1px,#92c5de 517.2px,#82b8d7 520.0px,#71a9cf 522.7px,#6096c5 525.4px,#4f81ba 528.2px,#4065ac 530.9px,#34419a 533.7px,#313695 536.4px,#313695 539.2px,#313695 541.9px,#313695 547.4px)"></div>
<div style="top:227.50px;height:4.60px;background:linear-gradient(90deg,#d83328 0.0px,#e14430 209.9px,#e95638 268.9px,#f16740 308.7px,#f67a49 337.5px,#f88c51 363.6px,#fba05a 384.1px,#fdb265 397.9px,#fdc173 410.2px,#fecf80 422.6px,#fede8e 434.9px,#fee79b 445.9px,#fff1a9 456.9px,#fffbb8 467.8px,#fafdc9 477.4px,#f0f9db 485.7px,#e7f6eb 492.5px,#daf0f6 499.4px,#c9e8f2 504.9px,#bbe1ed 509.0px,#a9d7e8 513.1px,#94c6df 517.2px,#83b9d8 520.0px,#72abd0 522.7px,#6297c6 525.4px,#5083bb 528.2px,#4167ad 530.9px,#35439b 533.7px,#313695 536.4px,#313695 539.2px,#313695 541.9px,#313695 547.4px)"></div>
<div style="top:231.50px;height:4.60px;background:linear-gradient(90deg,#d83228 0.0px,#e04430 212.6px,#e95538 268.9px,#f16640 308.7px,#f67948 337.5px,#f88b51 363.6px,#fb9e5a 384.1px,#fdb164 397.9px,#fdc072 410.2px,#fece7f 422.6px,#fedd8d 434.9px,#fee79a 445.9px,#fff0a9 456.9px,#fffab8 467.8px,#fafdc8 477.4px,#f0f9da 485.7px,#e7f6ea 492.5px,#dbf1f7 499.4px,#cae8f2 504.9px,#b6dfec 510.4px,#a4d3e6 514.5px,#8dc1dc 518.6px,#7cb4d5 521.3px,#6ba2cc 524.1px,#5a8fc1 526.8px,#4878b6 529.6px,#3c58a6 532.3px,#36459c 533.7px,#313695 536.4px,#313695 539.2px,#313695 541.9px,#313695 547.4px)"></div>
<div style="top:235.50px;height:4.60px;background:linear-gradient(90deg,#d83228 0.0px,#e04330 214.0px,#e85438 268.9px,#f0653f 308.7px,#f57748 337.5px,#f88a51 363.6px,#fb9d59 384.1px,#fdaf62 397.9px,#fdbf71 410.2px,#fecd7e 422.6px,#fedc8c 434.9px,#fee699 445.9px,#fff0a8 456.9px,#fff8b5 466.5px,#fcfec4 476.1px,#f3fad6 484.3px,#eaf7e6 491.2px,#e0f3f8 498.0px,#d0ebf3 503.5px,#bde2ee 509.0px,#acd9e9 513.1px,#97c9e0 517.2px,#86bcd9 520.0px,#75add1 522.7px,#649ac7 525.4px,#5386bd 528.2px,#426baf 530.9px,#36479d 533.7px,#313695 536.4px,#313695 539.2px,#313695 541.9px,#313695 547.4px)"></div>
<div style="top:239.50px;height:4.60px;background:linear-gradient(90deg,#d73127 0.0px,#e0422f 216.8px,#e85437 270.3px,#f0653f 310.1px,#f57748 338.9px,#f88a51 364.9px,#fb9d59 385.5px,#fdb063 399.2px,#fdbf71 411.6px,#fece7f 423.9px,#fedc8d 436.3px,#fee79a 447.2px,#fff0a9 458.2px,#fff9b6 467.8px,#fbfec6 477.4px,#f2fad8 485.7px,#e9f6e8 492.5px,#ddf2f7 499.4px,#cde9f3 504.9px,#b9e0ed 510.4px,#a6d5e7 514.5px,#90c4dd 518.6px,#7fb6d6 521.3px,#6ea5cd 524.1px,#5d91c3 526.8px,#4a7bb7 529.6px,#3d5ca8 532.3px,#37499e 533.7px,#313796 535.1px,#313695 537.8px,#313695 540.5px,#313695 544.7px,#313695 547.4px)"></div>
<div style="top:243.50px;height:4.60px;background:linear-gradient(90deg,#d73027 0.0px,#df412f 218.1px,#e75337 270.3px,#f0643f 310.1px,#f57647 338.9px,#f88950 364.9px,#fb9c59 385.5px,#fdaf62 399.2px,#fdbd6f 410.2px,#fecb7c 422.6px,#feda8a 434.9px,#fee598 445.9px,#feeea6 456.9px,#fff7b3 466.5px,#fdfec2 476.1px,#f4fbd4 484.3px,#ebf7e4 491.2px,#e1f3f6 498.0px,#d2ecf4 503.5px,#bfe3ef 509.0px,#aedbea 513.1px,#9acbe1 517.2px,#89beda 520.0px,#78b0d3 522.7px,#679dc9 525.4px,#5588be 528.2px,#436fb1 530.9px,#384b9f 533.7px,#323996 535.1px,#313695 537.8px,#313695 540.5px,#313695 544.7px,#313695 547.4px)"></div>
<div style="top:247.50px;height:4.60px;background:linear-gradient(90deg,#d73027 0.0px,#df412f 219.5px,#e75236 270.3px,#ef633e 310.1px,#f57547 338.9px,#f88850 364.9px,#fa9b58 385.5px,#fdaf62 400.6px,#fdbd6f 411.6px,#fecc7d 423.9px,#feda8b 436.3px,#fee698 447.2px,#feefa7 458.2px,#fff8b4 467.8px,#fcfec4 477.4px,#f3fad6 485.7px,#eaf7e6 492.5px,#dff3f8 499.4px,#cfebf3 504.9px,#bbe1ee 510.4px,#a9d8e8 514.5px,#93c6df 518.6px,#82b8d7 521.3px,#70a8cf 524.1px,#5f94c4 526.8px,#4d7fb9 529.6px,#3e60aa 532.3px,#384da1 533.7px,#323a97 535.1px,#313695 537.8px,#313695 540.5px,#313695 544.7px,#313695 547.4px)"></div>
<div style="top:251.50px;height:4.60px;background:linear-gradient(90deg,#d62f27 0.0px,#df402e 220.9px,#e75136 270.3px,#ef623e 310.1px,#f57446 338.9px,#f8864f 363.6px,#fa9957 384.1px,#fdab60 399.2px,#fdba6c 410.2px,#fec97a 422.6px,#fed888 434.9px,#fee496 445.9px,#feeda4 456.9px,#fff6b1 466.5px,#feffc0 476.1px,#f5fbd1 484.3px,#ecf8e2 491.2px,#e2f4f4 498.0px,#d4edf5 503.5px,#c1e4ef 509.0px,#b1dceb 513.1px,#9ccde3 517.2px,#8cc0dc 520.0px,#7ab2d4 522.7px,#69a0ca 525.4px,#588bc0 528.2px,#4473b3 530.9px,#3950a2 533.7px,#333c98 535.1px,#313695 537.8px,#313695 540.5px,#313695 544.7px,#313695 547.4px)"></div>
<div style="top:255.50px;height:4.60px;background:linear-gradient(90deg,#d52e27 0.0px,#de3f2e 222.3px,#e65036 271.6px,#ef623e 311.4px,#f57446 340.2px,#f8864f 364.9px,#fa9957 385.5px,#fdac60 400.6px,#fdbb6d 411.6px,#feca7b 423.9px,#fed889 436.3px,#fee497 447.2px,#feeea5 458.2px,#fff7b3 467.8px,#fdfec2 477.4px,#f4fbd4 485.7px,#ebf7e4 492.5px,#e1f3f7 499.4px,#d1ecf4 504.9px,#bde2ee 510.4px,#acd9e9 514.5px,#96c8e0 518.6px,#85bbd8 521.3px,#73abd0 524.1px,#6297c6 526.8px,#4f81ba 529.6px,#4064ab 532.3px,#3a52a3 533.7px,#333e99 535.1px,#313695 537.8px,#313695 540.5px,#313695 543.3px,#313695 547.4px)"></div>
<div style="top:259.50px;height:4.60px;background:linear-gradient(90deg,#d52e27 0.0px,#de3e2e 223.6px,#e64f35 271.6px,#ee603d 310.1px,#f57245 338.9px,#f7844e 363.6px,#fa9857 385.5px,#fdaa5f 400.6px,#fdb96c 411.6px,#fec87a 423.9px,#fed788 436.3px,#fee496 447.2px,#feeda4 458.2px,#fff6b2 467.8px,#feffc1 477.4px,#f4fbd2 485.7px,#ebf7e3 492.5px,#e1f4f6 499.4px,#d2ecf4 504.9px,#bee3ef 510.4px,#addaea 514.5px,#97c9e0 518.6px,#86bcd9 521.3px,#74add1 524.1px,#6398c6 526.8px,#5183bb 529.6px,#4066ac 532.3px,#3a54a4 533.7px,#343f9a 535.1px,#313695 537.8px,#313695 540.5px,#313695 543.3px,#313695 547.4px)"></div>
<div style="top:263.50px;height:4.60px;background:linear-gradient(90deg,#d42d27 0.0px,#dd3e2d 225.0px,#e64f35 273.0px,#ee603d 311.4px,#f57245 340.2px,#f7844e 364.9px,#fa9857 386.9px,#fdab60 402.0px,#fdba6c 413.0px,#fec97a 425.3px,#fed889 437.6px,#fee497 448.6px,#feeea5 459.6px,#fff7b3 469.2px,#fdfec3 478.8px,#f3fad5 487.0px,#eaf7e5 493.9px,#dff3f8 500.8px,#cfeaf3 506.2px,#c0e3ef 510.4px,#aedbea 514.5px,#99cae1 518.6px,#88bdda 521.3px,#75aed2 524.1px,#649ac7 526.8px,#5284bc 529.6px,#4168ad 532.3px,#3b56a5 533.7px,#35419b 535.1px,#313695 537.8px,#313695 540.5px,#313695 543.3px,#313695 547.4px)"></div>
<div style="top:267.50px;height:4.60px;background:linear-gradient(90deg,#d42d27 0.0px,#dd3d2d 226.4px,#e54e35 273.0px,#ed5f3d 311.4px,#f57145 340.2px,#f7834d 364.9px,#fa9756 386.9px,#fca95f 402.0px,#fdb96b 413.0px,#fec87a 425.3px,#fed788 437.6px,#fee496 448.6px,#feeea5 459.6px,#fff7b2 469.2px,#fefec2 478.8px,#f4fbd4 487.0px,#ebf7e4 493.9px,#e0f3f8 500.8px,#d0ebf3 506.2px,#c1e4ef 510.4px,#afdbea 514.5px,#9acbe2 518.6px,#89beda 521.3px,#77afd2 524.1px,#659bc8 526.8px,#5386bd 529.6px,#4169ae 532.3px,#3c57a5 533.7px,#35439b 535.1px,#313695 537.8px,#313695 540.5px,#313695 543.3px,#313695 547.4px)"></div>
<div style="top:271.50px;height:4.60px;background:linear-gradient(90deg,#d32c27 0.0px,#dd3c2d 227.7px,#e54d35 274.4px,#ed5e3c 311.4px,#f47044 340.2px,#f7824d 364.9px,#fa9656 386.9px,#fca85e 402.0px,#fdb86a 413.0px,#fec779 425.3px,#fed687 437.6px,#fee395 448.6px,#feeda4 459.6px,#fff6b1 469.2px,#feffc1 478.8px,#f4fbd3 487.0px,#ebf7e3 493.9px,#e1f3f6 500.8px,#d1ebf4 506.2px,#c2e4ef 510.4px,#b1dceb 514.5px,#9bcde2 518.6px,#8bbfdb 521.3px,#78b0d3 524.1px,#669dc9 526.8px,#5487bd 529.6px,#426baf 532.3px,#3c59a6 533.7px,#36459c 535.1px,#313695 537.8px,#313695 540.5px,#313695 543.3px,#313695 547.4px)"></div>
<div style="top:275.50px;height:4.60px;background:linear-gradient(90deg,#d22c27 0.0px,#dc3b2c 227.7px,#e54c34 274.4px,#ed5e3c 311.4px,#f46f44 340.2px,#f7824c 364.9px,#f99555 386.9px,#fca85e 403.3px,#fdb86b 414.3px,#fec879 426.7px,#fed788 439.0px,#fee496 450.0px,#feeca3 459.6px,#fff5b0 469.2px,#ffffc0 478.8px,#f5fbd1 487.0px,#ecf8e2 493.9px,#e1f4f5 500.8px,#d2ecf4 506.2px,#bee2ee 511.7px,#abd9e9 515.8px,#95c7df 520.0px,#83b9d8 522.7px,#70a9cf 525.4px,#5f93c4 528.2px,#4b7cb8 530.9px,#3d5ba7 533.7px,#36479d 535.1px,#313695 536.4px,#313695 539.2px,#313695 541.9px,#313695 546.0px,#313695 547.4px)"></div>
<div style="top:279.50px;height:4.60px;background:linear-gradient(90deg,#d22b27 0.0px,#dc3b2c 229.1px,#e44c34 275.8px,#ed5d3c 312.8px,#f46f44 341.6px,#f7824d 366.3px,#fa9555 388.3px,#fca75e 403.3px,#fdb769 414.3px,#fdc577 425.3px,#fed485 437.6px,#fee293 448.6px,#feeba0 458.2px,#fff4ae 467.8px,#fffdbc 477.4px,#f7fccd 485.7px,#eef9de 492.5px,#e4f5f0 499.4px,#d7eff6 504.9px,#c4e5f0 510.4px,#b3ddeb 514.5px,#9ecfe3 518.6px,#8ec1dc 521.3px,#7bb3d4 524.1px,#69a0ca 526.8px,#578abf 529.6px,#436fb1 532.3px,#3d5da8 533.7px,#37499e 535.1px,#313795 536.4px,#313695 539.2px,#313695 541.9px,#313695 546.0px,#313695 547.4px)"></div>
<div style="top:283.50px;height:4.60px;background:linear-gradient(90deg,#d12a27 0.0px,#dc3a2c 230.5px,#e44c34 277.1px,#ec5d3b 312.8px,#f46e43 341.6px,#f7814c 366.3px,#f99455 388.3px,#fca75e 404.7px,#fdb86a 415.7px,#fdc677 426.7px,#fed586 439.0px,#fee294 450.0px,#feeba1 459.6px,#fff4af 469.2px,#fffebe 478.8px,#f6fccf 487.0px,#edf8e0 493.9px,#e3f4f3 500.8px,#d4edf5 506.2px,#c0e3ef 511.7px,#aedaea 515.8px,#98c9e1 520.0px,#86bbd9 522.7px,#73acd0 525.4px,#6196c5 528.2px,#4e7fb9 530.9px,#3e5fa9 533.7px,#384b9f 535.1px,#323896 536.4px,#313695 539.2px,#313695 541.9px,#313695 546.0px,#313695 547.4px)"></div>
<div style="top:287.50px;height:4.60px;background:linear-gradient(90deg,#d12a27 0.0px,#db392b 230.5px,#e44b33 277.1px,#ec5c3b 312.8px,#f46d43 341.6px,#f7804c 366.3px,#f99354 388.3px,#fca65d 404.7px,#fdb669 415.7px,#fdc576 426.7px,#fed485 439.0px,#fee293 450.0px,#feeba0 459.6px,#fff4ae 469.2px,#fffebd 478.8px,#f7fcce 487.0px,#edf8df 493.9px,#e3f4f2 500.8px,#d5eef5 506.2px,#c1e4ef 511.7px,#afdbea 515.8px,#99cbe1 520.0px,#87bcd9 522.7px,#74add1 525.4px,#6298c6 528.2px,#4f81ba 530.9px,#3f61aa 533.7px,#384da1 535.1px,#323997 536.4px,#313695 539.2px,#313695 541.9px,#313695 546.0px,#313695 547.4px)"></div>
<div style="top:291.50px;height:4.60px;background:linear-gradient(90deg,#d02927 0.0px,#db392b 230.5px,#e34a33 278.5px,#ec5c3b 314.2px,#f46d43 343.0px,#f7804c 367.7px,#f99354 389.6px,#fca75e 406.1px,#fdb769 417.1px,#fdc577 428.0px,#fed586 440.4px,#fee294 451.4px,#feeba1 461.0px,#fff5af 470.6px,#ffffbe 480.2px,#f5fbd1 488.4px,#ecf8e2 495.3px,#e2f4f5 502.1px,#d1ecf4 507.6px,#c2e4f0 511.7px,#b0dceb 515.8px,#9acce2 520.0px,#89beda 522.7px,#76aed2 525.4px,#6399c7 528.2px,#5082bb 530.9px,#3f63ab 533.7px,#3950a2 535.1px,#333b97 536.4px,#313695 539.2px,#313695 541.9px,#313695 546.0px,#313695 547.4px)"></div>
<div style="top:295.50px;height:4.60px;background:linear-gradient(90deg,#cf2927 0.0px,#db382b 230.5px,#e34933 278.5px,#eb5b3b 314.2px,#f46c43 343.0px,#f67f4b 367.7px,#f99254 389.6px,#fca55d 406.1px,#fdb668 417.1px,#fdc476 428.0px,#fed283 439.0px,#fee191 450.0px,#fee99e 459.6px,#fff3ac 469.2px,#fffdbb 478.8px,#f8fccc 487.0px,#eff9dd 493.9px,#e4f5f0 500.8px,#d7eff5 506.2px,#c3e5f0 511.7px,#b2dceb 515.8px,#9ccde2 520.0px,#8abfdb 522.7px,#77afd2 525.4px,#649bc7 528.2px,#5184bc 530.9px,#4065ac 533.7px,#3a52a3 535.1px,#333d98 536.4px,#313695 539.2px,#313695 541.9px,#313695 546.0px,#313695 547.4px)"></div>
<div style="top:299.50px;height:4.60px;background:linear-gradient(90deg,#cf2827 0.0px,#da372a 229.1px,#e24832 278.5px,#eb593a 312.8px,#f36a42 341.6px,#f67d4a 366.3px,#f98f53 388.3px,#fba25b 404.7px,#fdb265 415.7px,#fdc173 426.7px,#fecf80 437.6px,#fede8e 448.6px,#fee89b 458.2px,#fff1a9 467.8px,#fffbb8 477.4px,#fafdc8 485.7px,#f1fad9 492.5px,#e7f6eb 499.4px,#dcf1f7 504.9px,#cae8f2 510.4px,#b9e0ed 514.5px,#a5d4e6 518.6px,#95c7df 521.3px,#82b8d7 524.1px,#6fa7ce 526.8px,#5c91c2 529.6px,#4878b6 532.3px,#4167ad 533.7px,#3a54a4 535.1px,#343e99 536.4px,#313695 539.2px,#313695 541.9px,#313695 544.7px,#313695 547.4px)"></div>
<div style="top:303.50px;height:4.60px;background:linear-gradient(90deg,#ce2827 0.0px,#da362a 227.7px,#e24832 279.9px,#eb593a 314.2px,#f36a42 343.0px,#f67d4a 367.7px,#f99053 389.6px,#fba25c 406.1px,#fdb366 417.1px,#fdc274 428.0px,#fed081 439.0px,#fedf8f 450.0px,#fee89d 459.6px,#fff2ab 469.2px,#fffbba 478.8px,#f9fdca 487.0px,#f0f9db 493.9px,#e6f5ee 500.8px,#d9f0f6 506.2px,#c6e6f1 511.7px,#b4ddec 515.8px,#9fcfe4 520.0px,#8dc1dc 522.7px,#7ab2d4 525.4px,#679dc9 528.2px,#5487bd 530.9px,#4169ae 533.7px,#3b56a5 535.1px,#34409a 536.4px,#313695 539.2px,#313695 541.9px,#313695 544.7px,#313695 547.4px)"></div>
<div style="top:307.50px;height:4.60px;background:linear-gradient(90deg,#ce2727 0.0px,#da362a 225.0px,#e24731 279.9px,#ea5839 314.2px,#f26941 343.0px,#f67c4a 367.7px,#f98f53 389.6px,#fba15b 406.1px,#fdb265 417.1px,#fdc173 428.0px,#fecf80 439.0px,#fede8e 450.0px,#fee89c 459.6px,#fff1aa 469.2px,#fffbb9 478.8px,#f9fdc9 487.0px,#f0f9da 493.9px,#e6f5ed 500.8px,#daf0f6 506.2px,#c7e7f1 511.7px,#b5deec 515.8px,#a0d0e4 520.0px,#8fc2dd 522.7px,#7bb3d4 525.4px,#689fca 528.2px,#5588be 530.9px,#426baf 533.7px,#3c58a6 535.1px,#35429b 536.4px,#313695 539.2px,#313695 541.9px,#313695 544.7px,#313695 547.4px)"></div>
<div style="top:311.50px;height:4.60px;background:linear-gradient(90deg,#cd2627 0.0px,#d93529 223.6px,#e24631 281.2px,#ea5739 314.2px,#f26841 343.0px,#f67b49 367.7px,#f98e52 389.6px,#fba15b 407.5px,#fdb365 418.4px,#fdc274 429.4px,#fed081 440.4px,#fedf8f 451.4px,#fee89d 461.0px,#fff2ab 470.6px,#fffcba 480.2px,#f8fccb 488.4px,#eff9dc 495.3px,#e4f5f0 502.1px,#d7eef5 507.6px,#c8e7f1 511.7px,#b7dfec 515.8px,#a1d1e5 520.0px,#90c4dd 522.7px,#7db4d5 525.4px,#6aa1cb 528.2px,#568abf 530.9px,#426db0 533.7px,#3c5aa7 535.1px,#36449c 536.4px,#313695 537.8px,#313695 540.5px,#313695 543.3px,#313695 547.4px)"></div>
<div style="top:315.50px;height:4.60px;background:linear-gradient(90deg,#cc2627 0.0px,#d93429 222.3px,#e14531 281.2px,#e95639 314.2px,#f26841 344.4px,#f67b49 369.0px,#f98e52 391.0px,#fba05b 407.5px,#fdb164 418.4px,#fdc173 429.4px,#fecf80 440.4px,#fede8e 451.4px,#fee89c 461.0px,#fff1aa 470.6px,#fffbb9 480.2px,#f9fdca 488.4px,#f0f9db 495.3px,#e5f5ef 502.1px,#d8eff6 507.6px,#c9e8f2 511.7px,#b8dfed 515.8px,#a3d2e5 520.0px,#92c5de 522.7px,#7eb5d6 525.4px,#6ba2cb 528.2px,#588bbf 530.9px,#436fb1 533.7px,#3d5ca8 535.1px,#36479d 536.4px,#313695 537.8px,#313695 540.5px,#313695 543.3px,#313695 547.4px)"></div>
<div style="top:319.50px;height:4.60px;background:linear-gradient(90deg,#cc2527 0.0px,#d93329 220.9px,#e14531 282.6px,#e95639 315.5px,#f16740 344.4px,#f67a49 369.0px,#f88d52 391.0px,#fba15b 408.8px,#fdb265 419.8px,#fdc173 430.8px,#fed081 441.8px,#fedf8f 452.7px,#fee99d 462.3px,#fff2ab 471.9px,#fffbb9 480.2px,#f9fdc9 488.4px,#f0f9da 495.3px,#e6f5ee 502.1px,#d9f0f6 507.6px,#c5e6f0 513.1px,#b3ddeb 517.2px,#9ccde2 521.3px,#8abeda 524.1px,#76aed2 526.8px,#6298c6 529.6px,#4e80ba 532.3px,#3e5ea9 535.1px,#37499e 536.4px,#313695 537.8px,#313695 540.5px,#313695 543.3px,#313695 547.4px)"></div>
<div style="top:323.50px;height:4.60px;background:linear-gradient(90deg,#cb2527 0.0px,#d83328 219.5px,#e04430 282.6px,#e95538 315.5px,#f16640 344.4px,#f67948 369.0px,#f88c51 391.0px,#fb9f5a 408.8px,#fdb365 421.2px,#fdc274 432.2px,#fed182 443.1px,#fee090 454.1px,#fee99e 463.7px,#fff3ad 473.3px,#fffcba 481.5px,#f8fccb 489.8px,#eff9dd 496.6px,#e4f5f1 503.5px,#d5eef5 509.0px,#c6e6f1 513.1px,#b4ddeb 517.2px,#9dcee3 521.3px,#8bc0db 524.1px,#77afd2 526.8px,#649ac7 529.6px,#5082bb 532.3px,#3e60aa 535.1px,#384b9f 536.4px,#313795 537.8px,#313695 540.5px,#313695 543.3px,#313695 547.4px)"></div>
<div style="top:327.50px;height:4.60px;background:linear-gradient(90deg,#cb2427 0.0px,#d83228 218.1px,#e04330 284.0px,#e85538 315.5px,#f06640 344.4px,#f67848 369.0px,#f88b51 391.0px,#fb9e5a 408.8px,#fdb164 421.2px,#fdc173 432.2px,#fed081 443.1px,#fedf8f 454.1px,#fee99d 463.7px,#fff2ac 473.3px,#fffbb9 481.5px,#f9fdca 489.8px,#eff9dc 496.6px,#e4f5f0 503.5px,#d6eef5 509.0px,#c7e7f1 513.1px,#b5deec 517.2px,#9fcfe4 521.3px,#8dc1dc 524.1px,#79b1d3 526.8px,#659bc8 529.6px,#5183bb 532.3px,#3f62ab 535.1px,#384da0 536.4px,#323896 537.8px,#313695 540.5px,#313695 543.3px,#313695 547.4px)"></div>
<div style="top:331.50px;height:4.60px;background:linear-gradient(90deg,#ca2427 0.0px,#d83128 216.8px,#e0422f 284.0px,#e85437 315.5px,#f0653f 344.4px,#f57748 369.0px,#f88a50 391.0px,#fb9d59 408.8px,#fdb063 421.2px,#fdbe70 430.8px,#fecd7e 441.8px,#fedc8c 452.7px,#fee79a 462.3px,#fff0a9 471.9px,#fff9b6 480.2px,#fbfdc6 488.4px,#f2fad7 495.3px,#e7f6eb 502.1px,#dcf1f7 507.6px,#c8e7f1 513.1px,#b6deec 517.2px,#a0d0e4 521.3px,#8ec2dc 524.1px,#7ab2d4 526.8px,#669cc8 529.6px,#5285bc 532.3px,#4064ac 535.1px,#394fa1 536.4px,#323997 537.8px,#313695 540.5px,#313695 543.3px,#313695 547.4px)"></div>
<div style="top:335.50px;height:4.60px;background:linear-gradient(90deg,#c92327 0.0px,#d73127 215.4px,#e0422f 285.4px,#e85337 316.9px,#f0653f 345.7px,#f57748 370.4px,#f88a50 392.4px,#fb9e59 410.2px,#fdb164 422.6px,#fdbf71 432.2px,#fece7f 443.1px,#fedd8d 454.1px,#fee79b 463.7px,#fff1aa 473.3px,#fffab8 481.5px,#fafdc8 489.8px,#f0f9da 496.6px,#e6f5ee 503.5px,#d8eff6 509.0px,#c9e8f2 513.1px,#b7dfec 517.2px,#a1d1e5 521.3px,#8fc3dd 524.1px,#7bb3d4 526.8px,#679ec9 529.6px,#5386bd 532.3px,#4066ac 535.1px,#3a51a2 536.4px,#333b97 537.8px,#313695 540.5px,#313695 543.3px,#313695 547.4px)"></div>
<div style="top:339.50px;height:4.60px;background:linear-gradient(90deg,#c92227 0.0px,#d73027 214.0px,#df412f 285.4px,#e75237 316.9px,#f0643f 345.7px,#f57647 370.4px,#f88950 392.4px,#fb9c59 410.2px,#fdb062 422.6px,#fdbe70 432.2px,#fecd7e 443.1px,#fedc8c 454.1px,#fee79a 463.7px,#fff1a9 473.3px,#fffab7 481.5px,#fafdc7 489.8px,#f1fad9 496.6px,#e6f5ed 503.5px,#d9f0f6 509.0px,#cae8f2 513.1px,#b8e0ed 517.2px,#a3d2e5 521.3px,#91c4de 524.1px,#7db4d5 526.8px,#689fca 529.6px,#5487bd 532.3px,#4167ad 535.1px,#3a53a3 536.4px,#333c98 537.8px,#313695 540.5px,#313695 543.3px,#313695 547.4px)"></div>
<div style="top:343.50px;height:4.60px;background:linear-gradient(90deg,#c82227 0.0px,#d62f27 212.6px,#df402e 285.4px,#e75236 316.9px,#ef633e 345.7px,#f57547 370.4px,#f88850 392.4px,#fa9b58 410.2px,#fdae61 422.6px,#fdbd6f 432.2px,#fecc7d 443.1px,#fedb8c 454.1px,#fee69a 463.7px,#fff0a9 473.3px,#fff9b6 481.5px,#fbfdc6 489.8px,#f1fad8 496.6px,#e7f6ec 503.5px,#daf0f6 509.0px,#cbe9f2 513.1px,#bae0ed 517.2px,#a4d3e6 521.3px,#92c5de 524.1px,#7eb5d5 526.8px,#6aa1cb 529.6px,#5588be 532.3px,#4169ae 535.1px,#3b55a4 536.4px,#333e99 537.8px,#313695 540.5px,#313695 543.3px,#313695 547.4px)"></div>
<div style="top:347.50px;height:4.60px;background:linear-gradient(90deg,#c82127 0.0px,#d62f27 211.3px,#df402e 286.7px,#e75136 318.3px,#ef633e 347.1px,#f57547 371.8px,#f88850 393.7px,#fa9c59 411.6px,#fdaf62 423.9px,#fdbd70 433.5px,#fecd7e 444.5px,#fedc8d 455.5px,#fee79b 465.1px,#fff1aa 474.7px,#fffab8 482.9px,#fafdc9 491.2px,#f0f9db 498.0px,#e7f6eb 503.5px,#dbf1f7 509.0px,#cce9f2 513.1px,#bbe1ed 517.2px,#a5d4e6 521.3px,#94c6df 524.1px,#7fb6d6 526.8px,#6ba2cb 529.6px,#568abf 532.3px,#426baf 535.1px,#3b56a5 536.4px,#343f9a 537.8px,#313695 540.5px,#313695 543.3px,#313695 547.4px)"></div>
<div style="top:351.50px;height:4.60px;background:linear-gradient(90deg,#c72127 0.0px,#d52e27 209.9px,#de3f2e 286.7px,#e65036 318.3px,#ef623e 347.1px,#f57446 371.8px,#f8874f 393.7px,#fa9a58 411.6px,#fdae61 423.9px,#fdbc6e 433.5px,#fecc7d 444.5px,#fedb8c 455.5px,#fee79a 465.1px,#fff1a9 474.7px,#fffab7 482.9px,#fafdc8 491.2px,#f1f9da 498.0px,#e8f6ea 503.5px,#dcf1f7 509.0px,#cdeaf3 513.1px,#bce1ee 517.2px,#a6d5e7 521.3px,#95c7df 524.1px,#81b7d7 526.8px,#6ca3cc 529.6px,#578bbf 532.3px,#426db0 535.1px,#3c58a6 536.4px,#35419a 537.8px,#313695 539.2px,#313695 541.9px,#313695 544.7px,#313695 547.4px)"></div>
<div style="top:355.50px;height:4.60px;background:linear-gradient(90deg,#c62027 0.0px,#d42e27 208.5px,#de3e2d 286.7px,#e64f35 318.3px,#ee613d 347.1px,#f57346 371.8px,#f8864f 393.7px,#fa9957 411.6px,#fdac60 423.9px,#fdbb6d 433.5px,#fecb7c 444.5px,#feda8b 455.5px,#fee699 465.1px,#fff0a8 474.7px,#fff9b6 482.9px,#fbfdc7 491.2px,#f1fad9 498.0px,#e8f6e9 503.5px,#ddf2f7 509.0px,#ceeaf3 513.1px,#bde2ee 517.2px,#a8d6e8 521.3px,#96c8e0 524.1px,#82b8d7 526.8px,#6da5cd 529.6px,#598cc0 532.3px,#436eb1 535.1px,#3c5aa7 536.4px,#35439b 537.8px,#313695 539.2px,#313695 541.9px,#313695 544.7px,#313695 547.4px)"></div>
<div style="top:359.50px;height:4.60px;background:linear-gradient(90deg,#c62027 0.0px,#d42d27 207.2px,#dd3d2d 286.7px,#e54e35 318.3px,#ee603d 347.1px,#f57245 371.8px,#f7864e 393.7px,#fa9857 411.6px,#fdaa5f 423.9px,#fdba6c 433.5px,#feca7b 444.5px,#fed98a 455.5px,#fee598 465.1px,#feefa7 474.7px,#fff8b5 482.9px,#fbfec6 491.2px,#f2fad8 498.0px,#e9f6e8 503.5px,#def2f8 509.0px,#d0ebf3 513.1px,#bee2ee 517.2px,#a9d7e8 521.3px,#98c9e1 524.1px,#83b9d8 526.8px,#6ea6cd 529.6px,#5a8ec1 532.3px,#4370b2 535.1px,#3d5ba7 536.4px,#36459c 537.8px,#313695 539.2px,#313695 541.9px,#313695 544.7px,#313695 547.4px)"></div>
<div style="top:363.50px;height:4.60px;background:linear-gradient(90deg,#c51f27 0.0px,#d32c27 205.8px,#dd3c2d 286.7px,#e54d34 318.3px,#ed5f3d 347.1px,#f57145 371.8px,#f7834d 392.4px,#fa9556 410.2px,#fca95f 423.9px,#fdb96b 433.5px,#fdc778 443.1px,#fed687 454.1px,#fee395 463.7px,#feeda4 473.3px,#fff6b2 481.5px,#feffc1 489.8px,#f4fbd3 496.6px,#e9f7e7 503.5px,#dff3f8 509.0px,#d1ebf4 513.1px,#bfe3ef 517.2px,#aad8e9 521.3px,#99cbe1 524.1px,#85bad8 526.8px,#6fa7ce 529.6px,#5b8fc1 532.3px,#4472b2 535.1px,#3d5da8 536.4px,#36469d 537.8px,#313695 539.2px,#313695 541.9px,#313695 544.7px,#313695 547.4px)"></div>
<div style="top:367.50px;height:4.60px;background:linear-gradient(90deg,#c51e27 0.0px,#d32c27 204.4px,#dd3c2c 286.7px,#e54d34 319.7px,#ed5e3c 347.1px,#f47044 371.8px,#f7824d 392.4px,#fa9656 411.6px,#fcaa5f 425.3px,#fdba6c 434.9px,#fec879 444.5px,#fed788 455.5px,#fee496 465.1px,#feeda3 473.3px,#fff6b1 481.5px,#feffc0 489.8px,#f5fbd2 496.6px,#eaf7e6 503.5px,#e0f3f8 509.0px,#d2ecf4 513.1px,#c0e3ef 517.2px,#abd9e9 521.3px,#9acce2 524.1px,#86bcd9 526.8px,#70a9cf 529.6px,#5c90c2 532.3px,#4574b3 535.1px,#3e5fa9 536.4px,#37489e 537.8px,#313695 539.2px,#313695 541.9px,#313695 544.7px,#313695 547.4px)"></div>
<div style="top:371.50px;height:4.60px;background:linear-gradient(90deg,#c41e27 0.0px,#d22b27 204.4px,#dc3b2c 288.1px,#e54d34 321.0px,#ed5e3c 348.5px,#f47045 373.2px,#f7834d 393.7px,#fa9555 411.6px,#fca85e 425.3px,#fdb86b 434.9px,#fdc778 444.5px,#fed687 455.5px,#fee495 465.1px,#feeca3 473.3px,#fff5b0 481.5px,#ffffbf 489.8px,#f5fbd1 496.6px,#ebf7e5 503.5px,#e1f3f7 509.0px,#cdeaf3 514.5px,#bbe1ee 518.6px,#a4d4e6 522.7px,#92c5de 525.4px,#7db4d5 528.2px,#679ec9 530.9px,#5284bc 533.7px,#3f61aa 536.4px,#374a9f 537.8px,#313695 539.2px,#313695 541.9px,#313695 544.7px,#313695 547.4px)"></div>
<div style="top:375.50px;height:4.60px;background:linear-gradient(90deg,#c31d27 0.0px,#d22b27 203.0px,#dc3b2c 288.1px,#e44c34 321.0px,#ed5d3c 348.5px,#f46f44 373.2px,#f7824d 393.7px,#fa9556 413.0px,#fca95f 426.7px,#fdb96c 436.3px,#fec779 445.9px,#fed586 455.5px,#fee394 465.1px,#feeca2 473.3px,#fff5af 481.5px,#ffffbe 489.8px,#f6fbd0 496.6px,#ebf7e3 503.5px,#e1f4f6 509.0px,#ceeaf3 514.5px,#bce1ee 518.6px,#a6d5e7 522.7px,#93c6df 525.4px,#7eb5d5 528.2px,#699fca 530.9px,#5386bd 533.7px,#3f63ab 536.4px,#384ca0 537.8px,#313695 539.2px,#313695 541.9px,#313695 544.7px,#313695 547.4px)"></div>
<div style="top:379.50px;height:4.60px;background:linear-gradient(90deg,#c31d27 0.0px,#d12a27 201.7px,#dc392b 286.7px,#e44b33 321.0px,#ec5c3b 348.5px,#f46e44 373.2px,#f7814c 393.7px,#f99455 413.0px,#fca85e 426.7px,#fdb86a 436.3px,#fdc678 445.9px,#fed485 455.5px,#fee294 465.1px,#feeba1 473.3px,#fff4af 481.5px,#fffebe 489.8px,#f6fccf 496.6px,#ecf8e2 503.5px,#e2f4f4 509.0px,#cfebf3 514.5px,#bde2ee 518.6px,#a7d6e7 522.7px,#95c7df 525.4px,#7fb6d6 528.2px,#6aa1cb 530.9px,#5487bd 533.7px,#4064ac 536.4px,#394ea1 537.8px,#313796 539.2px,#313695 541.9px,#313695 544.7px,#313695 547.4px)"></div>
<div style="top:383.50px;height:4.60px;background:linear-gradient(90deg,#c21c27 0.0px,#d02a27 200.3px,#db392b 286.7px,#e34a33 321.0px,#ec5b3b 348.5px,#f46d43 373.2px,#f7804c 393.7px,#f99355 413.0px,#fca65d 426.7px,#fdb769 436.3px,#fdc577 445.9px,#fed484 455.5px,#fee293 465.1px,#feeaa0 473.3px,#fff4ae 481.5px,#fffebd 489.8px,#f7fcce 496.6px,#ecf8e1 503.5px,#e2f4f3 509.0px,#d0ebf4 514.5px,#bee2ee 518.6px,#a8d7e8 522.7px,#96c8e0 525.4px,#81b7d7 528.2px,#6ba2cb 530.9px,#5588be 533.7px,#4066ad 536.4px,#3950a2 537.8px,#323996 539.2px,#313695 541.9px,#313695 544.7px,#313695 547.4px)"></div>
<div style="top:387.50px;height:4.60px;background:linear-gradient(90deg,#c21c27 0.0px,#d02927 198.9px,#db382b 286.7px,#e34a33 322.4px,#ec5b3b 349.8px,#f46c43 373.2px,#f67f4b 393.7px,#f99254 413.0px,#fca55d 426.7px,#fdb668 436.3px,#fdc476 445.9px,#fed383 455.5px,#fee192 465.1px,#feea9f 473.3px,#fff3ad 481.5px,#fffdbc 489.8px,#f8fccd 496.6px,#edf8e0 503.5px,#e3f4f2 509.0px,#d1ecf4 514.5px,#bfe3ef 518.6px,#aad8e8 522.7px,#97c9e0 525.4px,#82b8d7 528.2px,#6ca4cc 530.9px,#568abf 533.7px,#4168ae 536.4px,#3a52a3 537.8px,#323a97 539.2px,#313695 541.9px,#313695 544.7px,#313695 547.4px)"></div>
<div style="top:391.50px;height:4.60px;background:linear-gradient(90deg,#c11b27 0.0px,#cf2827 198.9px,#da372a 285.4px,#e34932 322.4px,#eb5a3a 349.8px,#f36b42 373.2px,#f67e4b 393.7px,#f99154 413.0px,#fca35c 426.7px,#fdb467 436.3px,#fdc375 445.9px,#fed282 455.5px,#fee091 465.1px,#fee99e 473.3px,#fff3ac 481.5px,#fffcbb 489.8px,#f8fccc 496.6px,#edf8df 503.5px,#e4f4f1 509.0px,#d2ecf4 514.5px,#c1e4ef 518.6px,#abd9e9 522.7px,#99cae1 525.4px,#84bad8 528.2px,#6da5cd 530.9px,#588bbf 533.7px,#426aaf 536.4px,#3a54a4 537.8px,#333c98 539.2px,#313695 540.5px,#313695 543.3px,#313695 546.0px,#313695 547.4px)"></div>
<div style="top:395.50px;height:4.60px;background:linear-gradient(90deg,#c01a27 0.0px,#cf2827 222.3px,#da372a 285.4px,#e34832 322.4px,#eb593a 349.8px,#f36a42 373.2px,#f67d4a 393.7px,#f99053 413.0px,#fca45c 428.0px,#fdb568 437.6px,#fdc476 447.2px,#fed383 456.9px,#fee192 466.5px,#feeaa0 474.7px,#fff4ae 482.9px,#fffebd 491.2px,#f7fcce 498.0px,#eef8de 503.5px,#e4f5f0 509.0px,#d4edf4 514.5px,#c2e4ef 518.6px,#acdae9 522.7px,#9acce2 525.4px,#85bbd8 528.2px,#6ea6ce 530.9px,#598cc0 533.7px,#426caf 536.4px,#3b56a5 537.8px,#333d99 539.2px,#313695 540.5px,#313695 543.3px,#313695 546.0px,#313695 547.4px)"></div>
<div style="top:399.50px;height:4.60px;background:linear-gradient(90deg,#c01a27 0.0px,#ce2727 229.1px,#da362a 284.0px,#e24832 322.4px,#ea593a 349.8px,#f36b42 374.5px,#f67d4a 395.1px,#f99153 414.3px,#fba35c 428.0px,#fdb467 437.6px,#fdc375 447.2px,#fed283 456.9px,#fee191 466.5px,#feea9f 474.7px,#fff3ad 482.9px,#fffdbc 491.2px,#f7fccd 498.0px,#eff9dd 503.5px,#e5f5ef 509.0px,#d5edf5 514.5px,#c3e5f0 518.6px,#addaea 522.7px,#9ccde2 525.4px,#86bcd9 528.2px,#70a8ce 530.9px,#5a8ec1 533.7px,#436eb0 536.4px,#3c58a6 537.8px,#343f99 539.2px,#313695 540.5px,#313695 543.3px,#313695 546.0px,#313695 547.4px)"></div>
<div style="top:403.50px;height:4.60px;background:linear-gradient(90deg,#bf1927 0.0px,#cd2627 231.9px,#d93529 282.6px,#e14631 321.0px,#ea5839 349.8px,#f26a41 374.5px,#f67c4a 395.1px,#f99053 414.3px,#fca45c 429.4px,#fdb568 439.0px,#fdc476 448.6px,#fed384 458.2px,#fee292 467.8px,#feeba0 476.1px,#fff4ae 484.3px,#fffebe 492.5px,#f6fbd0 499.4px,#edf8e1 504.9px,#e3f4f3 510.4px,#d6eef5 514.5px,#c4e5f0 518.6px,#aedbea 522.7px,#9dcee3 525.4px,#88bdda 528.2px,#71a9cf 530.9px,#5b8fc2 533.7px,#4370b1 536.4px,#3c59a6 537.8px,#34419a 539.2px,#313695 540.5px,#313695 543.3px,#313695 546.0px,#313695 547.4px)"></div>
<div style="top:407.50px;height:4.60px;background:linear-gradient(90deg,#be1827 0.0px,#cc2627 234.6px,#d93429 282.6px,#e14531 321.0px,#e95739 349.8px,#f26941 374.5px,#f67b4a 395.1px,#f98e52 414.3px,#fba25c 429.4px,#fdb466 439.0px,#fdc375 448.6px,#fed283 458.2px,#fee191 467.8px,#feea9f 476.1px,#fff4ae 484.3px,#fffebd 492.5px,#f6fccf 499.4px,#edf8e0 504.9px,#e3f4f2 510.4px,#d7eef5 514.5px,#c5e6f0 518.6px,#b0dbea 522.7px,#9ecfe3 525.4px,#89beda 528.2px,#72abd0 530.9px,#5c90c2 533.7px,#4471b2 536.4px,#3d5ba7 537.8px,#35439b 539.2px,#313695 540.5px,#313695 543.3px,#313695 546.0px,#313695 547.4px)"></div>
<div style="top:411.50px;height:4.60px;background:linear-gradient(90deg,#bd1726 0.0px,#cb2527 236.0px,#d83328 282.6px,#e14430 321.0px,#e95638 349.8px,#f16840 374.5px,#f67a49 395.1px,#f88d52 414.3px,#fba15b 429.4px,#fdb265 439.0px,#fdc274 448.6px,#fed182 458.2px,#fee091 467.8px,#fee99e 476.1px,#fff3ad 484.3px,#fffdbc 492.5px,#f7fcce 499.4px,#eef8de 504.9px,#e4f4f1 510.4px,#d8eff6 514.5px,#c6e6f1 518.6px,#b1dceb 522.7px,#a0d0e4 525.4px,#8bbfdb 528.2px,#73acd1 530.9px,#5d92c3 533.7px,#4473b3 536.4px,#3d5da8 537.8px,#36449c 539.2px,#313695 540.5px,#313695 543.3px,#313695 546.0px,#313695 547.4px)"></div>
<div style="top:415.50px;height:4.60px;background:linear-gradient(90deg,#bd1726 0.0px,#cb2427 238.7px,#d83228 282.6px,#e04430 321.0px,#e85538 349.8px,#f16740 374.5px,#f67949 395.1px,#f88c52 414.3px,#fba05a 429.4px,#fdb164 439.0px,#fdc173 448.6px,#fed081 458.2px,#fee090 467.8px,#fee99d 476.1px,#fff2ac 484.3px,#fffdbc 492.5px,#f7fccd 499.4px,#eef9dd 504.9px,#e4f5f0 510.4px,#d9eff6 514.5px,#c7e7f1 518.6px,#b2ddeb 522.7px,#a1d1e5 525.4px,#8cc0dc 528.2px,#75aed1 530.9px,#5e93c4 533.7px,#4575b4 536.4px,#3e5fa9 537.8px,#36469d 539.2px,#313695 540.5px,#313695 543.3px,#313695 546.0px,#313695 547.4px)"></div>
<div style="top:419.50px;height:4.60px;background:linear-gradient(90deg,#bc1626 0.0px,#ca2427 240.1px,#d83128 282.6px,#e04330 321.0px,#e85437 349.8px,#f06640 374.5px,#f67848 395.1px,#f88c51 414.3px,#fb9e5a 429.4px,#fdb265 440.4px,#fdc274 450.0px,#fed182 459.6px,#fee191 469.2px,#feea9f 477.4px,#fff4ae 485.7px,#fffcbb 492.5px,#f8fccc 499.4px,#eff9dc 504.9px,#e5f5ef 510.4px,#daf0f6 514.5px,#c8e7f1 518.6px,#b3ddeb 522.7px,#a2d2e5 525.4px,#8ec2dc 528.2px,#76afd2 530.9px,#6095c4 533.7px,#4677b5 536.4px,#3f61aa 537.8px,#37489e 539.2px,#313695 540.5px,#313695 541.9px,#313695 544.7px,#313695 547.4px)"></div>
<div style="top:423.50px;height:4.60px;background:linear-gradient(90deg,#bb1526 0.0px,#c92327 241.5px,#d73027 282.6px,#e0422f 321.0px,#e85437 351.2px,#f06640 375.9px,#f67948 396.5px,#f88c51 415.7px,#fb9f5a 430.8px,#fdb164 440.4px,#fdbf71 448.6px,#fece7f 458.2px,#fede8e 467.8px,#fee89c 476.1px,#fff1aa 484.3px,#fffcba 492.5px,#f9fccb 499.4px,#f0f9db 504.9px,#e6f5ee 510.4px,#d5eef5 515.8px,#c3e5f0 520.0px,#addae9 524.1px,#9acbe2 526.8px,#84bad8 529.6px,#6ca4cc 532.3px,#5588be 535.1px,#4878b6 536.4px,#3f63ab 537.8px,#374a9f 539.2px,#313695 540.5px,#313695 541.9px,#313695 544.7px,#313695 547.4px)"></div>
<div style="top:427.50px;height:4.60px;background:linear-gradient(90deg,#ba1526 0.0px,#c82227 241.5px,#d73027 282.6px,#df412f 319.7px,#e75237 349.8px,#ef643f 374.5px,#f57647 395.1px,#f88a50 414.3px,#fb9c59 429.4px,#fdb063 440.4px,#fdbe70 448.6px,#fecd7e 458.2px,#fedd8d 467.8px,#fee79b 476.1px,#fff1a9 484.3px,#fffbb9 492.5px,#f9fdca 499.4px,#f0f9da 504.9px,#e6f5ed 510.4px,#d6eef5 515.8px,#c4e5f0 520.0px,#aedaea 524.1px,#9bcce2 526.8px,#85bbd8 529.6px,#6da5cd 532.3px,#568abf 535.1px,#497ab7 536.4px,#4065ac 537.8px,#384da0 539.2px,#313695 540.5px,#313695 541.9px,#313695 544.7px,#313695 547.4px)"></div>
<div style="top:431.50px;height:4.60px;background:linear-gradient(90deg,#ba1426 0.0px,#c82127 242.8px,#d62f27 282.6px,#df402e 319.7px,#e75136 349.8px,#ef633e 374.5px,#f57547 395.1px,#f88950 414.3px,#fa9b58 429.4px,#fdae61 440.4px,#fdbd6f 448.6px,#fecc7d 458.2px,#fedc8c 467.8px,#fee69a 476.1px,#fff0a9 484.3px,#fffbb8 492.5px,#fafdc9 499.4px,#f1f9d9 504.9px,#e7f6ec 510.4px,#d7eff6 515.8px,#c5e6f0 520.0px,#afdbea 524.1px,#9dcde3 526.8px,#87bcd9 529.6px,#6fa7ce 532.3px,#578bbf 535.1px,#4167ad 537.8px,#394fa1 539.2px,#313695 540.5px,#313695 541.9px,#313695 544.7px,#313695 547.4px)"></div>
<div style="top:435.50px;height:4.60px;background:linear-gradient(90deg,#b91326 0.0px,#c72027 242.8px,#d52e27 282.6px,#de3f2e 319.7px,#e65036 349.8px,#ef623e 374.5px,#f57446 395.1px,#f7864f 413.0px,#fa9a58 429.4px,#fdad60 440.4px,#fdbb6e 448.6px,#fecb7c 458.2px,#fedb8b 467.8px,#fee699 476.1px,#fff0a8 484.3px,#fffab7 492.5px,#fafdc8 499.4px,#f1fad8 504.9px,#e7f6eb 510.4px,#d9eff6 515.8px,#c6e6f1 520.0px,#b0dcea 524.1px,#9ecfe3 526.8px,#88bdda 529.6px,#70a8ce 532.3px,#598cc0 535.1px,#4169ae 537.8px,#3951a2 539.2px,#313896 540.5px,#313695 541.9px,#313695 544.7px,#313695 547.4px)"></div>
<div style="top:439.50px;height:4.60px;background:linear-gradient(90deg,#b81226 0.0px,#c62027 244.2px,#d52e27 284.0px,#de3e2e 319.7px,#e64f35 349.8px,#ee613d 374.5px,#f57346 395.1px,#f7854e 413.0px,#fa9957 429.4px,#fdab60 440.4px,#fdba6c 448.6px,#feca7b 458.2px,#feda8a 467.8px,#fee598 476.1px,#feefa7 484.3px,#fff9b7 492.5px,#fbfdc7 499.4px,#f2fad7 504.9px,#e8f6ea 510.4px,#daf0f6 515.8px,#c8e7f1 520.0px,#b2dceb 524.1px,#9fd0e4 526.8px,#89beda 529.6px,#71aacf 532.3px,#5a8ec1 535.1px,#426baf 537.8px,#3a53a3 539.2px,#323997 540.5px,#313695 541.9px,#313695 543.3px,#313695 546.0px,#313695 547.4px)"></div>
<div style="top:443.50px;height:4.60px;background:linear-gradient(90deg,#b71226 0.0px,#c51f27 244.2px,#d42d27 284.0px,#dd3d2d 319.7px,#e54e35 349.8px,#ee603d 374.5px,#f57245 395.1px,#f7844e 413.0px,#fa9757 429.4px,#fcaa5f 440.4px,#fdb96b 448.6px,#fec97a 458.2px,#fed989 467.8px,#fee597 476.1px,#feefa6 484.3px,#fff9b6 492.5px,#fbfec6 499.4px,#f2fad6 504.9px,#e8f6e8 510.4px,#dbf0f6 515.8px,#c9e8f1 520.0px,#b3ddeb 524.1px,#a1d1e5 526.8px,#8bbfdb 529.6px,#72abd0 532.3px,#5b8fc2 535.1px,#426db0 537.8px,#3b55a4 539.2px,#323b97 540.5px,#313695 541.9px,#313695 543.3px,#313695 546.0px,#313695 547.4px)"></div>
<div style="top:447.50px;height:4.60px;background:linear-gradient(90deg,#b71126 0.0px,#c51e27 244.2px,#d32c27 284.0px,#dd3c2c 318.3px,#e54e35 349.8px,#ed5f3c 374.5px,#f57145 395.1px,#f7834d 413.0px,#fa9656 429.4px,#fdab60 441.8px,#fdba6c 450.0px,#feca7b 459.6px,#feda8a 469.2px,#fee699 477.4px,#fff0a8 485.7px,#fff8b5 492.5px,#fcfec5 499.4px,#f3fad5 504.9px,#e9f6e7 510.4px,#dcf1f7 515.8px,#cae8f2 520.0px,#b4ddec 524.1px,#a2d2e5 526.8px,#8cc1dc 529.6px,#74add1 532.3px,#5c91c2 535.1px,#436fb1 537.8px,#3b57a5 539.2px,#333c98 540.5px,#313695 541.9px,#313695 543.3px,#313695 546.0px,#313695 547.4px)"></div>
<div style="top:451.50px;height:4.60px;background:linear-gradient(90deg,#b61026 0.0px,#c41e27 244.2px,#d22b27 284.0px,#dc3b2c 318.3px,#e54d34 349.8px,#ed5f3c 375.9px,#f57145 396.5px,#f7844e 414.3px,#fa9756 430.8px,#fca95f 441.8px,#fdb96b 450.0px,#fec97a 459.6px,#fed989 469.2px,#fee598 477.4px,#feefa7 485.7px,#fff8b4 492.5px,#fcfec4 499.4px,#f4fbd4 504.9px,#eaf7e6 510.4px,#ddf1f7 515.8px,#cbe9f2 520.0px,#b5deec 524.1px,#a3d3e6 526.8px,#8ec2dc 529.6px,#75aed1 532.3px,#5d92c3 535.1px,#4471b2 537.8px,#3c59a6 539.2px,#343e99 540.5px,#313695 541.9px,#313695 543.3px,#313695 546.0px,#313695 547.4px)"></div>
<div style="top:455.50px;height:4.60px;background:linear-gradient(90deg,#b50f26 0.0px,#c31d27 242.8px,#d12a27 284.0px,#dc3a2c 318.3px,#e44c34 349.8px,#ed5e3c 375.9px,#f47044 396.5px,#f7834d 414.3px,#fa9656 430.8px,#fdab5f 443.1px,#fdba6c 451.4px,#feca7b 461.0px,#feda8b 470.6px,#fee699 478.8px,#fff0a9 487.0px,#fff9b6 493.9px,#fbfdc7 500.8px,#f2fad7 506.2px,#e7f6ea 511.7px,#def2f7 515.8px,#cce9f2 520.0px,#b6dfec 524.1px,#a5d4e6 526.8px,#8fc3dd 529.6px,#77afd2 532.3px,#5f93c4 535.1px,#4473b3 537.8px,#3d5ba7 539.2px,#34409a 540.5px,#313695 541.9px,#313695 543.3px,#313695 546.0px,#313695 547.4px)"></div>
<div style="top:459.50px;height:4.60px;background:linear-gradient(90deg,#b40f26 0.0px,#c21c27 242.8px,#d12a27 285.4px,#dc3a2c 319.7px,#e44c34 351.2px,#ec5d3c 375.9px,#f46f44 396.5px,#f7824d 414.3px,#fa9555 430.8px,#fca95f 443.1px,#fdb96b 451.4px,#fdc778 459.6px,#fed788 469.2px,#fee496 477.4px,#feeea5 485.7px,#fff7b2 492.5px,#fefec2 499.4px,#f5fbd2 504.9px,#ebf7e4 510.4px,#dff2f8 515.8px,#cdeaf3 520.0px,#b8dfed 524.1px,#a6d5e7 526.8px,#91c4de 529.6px,#78b0d3 532.3px,#6095c5 535.1px,#4575b4 537.8px,#3d5da8 539.2px,#35439b 540.5px,#313695 541.9px,#313695 543.3px,#313695 546.0px,#313695 547.4px)"></div>
<div style="top:463.50px;height:4.60px;background:linear-gradient(90deg,#b40e26 0.0px,#c21b27 240.1px,#cf2927 284.0px,#db382b 316.9px,#e34933 348.5px,#eb5b3b 374.5px,#f46d43 395.1px,#f77f4b 413.0px,#f99254 429.4px,#fca55d 441.8px,#fdb568 450.0px,#fdc475 458.2px,#fed484 467.8px,#fee292 476.1px,#feeca1 484.3px,#fff4af 491.2px,#fffebd 498.0px,#f5fbd1 504.9px,#ebf7e3 510.4px,#e0f3f8 515.8px,#cfeaf3 520.0px,#b9e0ed 524.1px,#a8d7e8 526.8px,#93c6df 529.6px,#7ab2d4 532.3px,#6297c6 535.1px,#4778b5 537.8px,#3e60aa 539.2px,#36469d 540.5px,#313695 541.9px,#313695 543.3px,#313695 544.7px,#313695 547.4px)"></div>
<div style="top:467.50px;height:4.60px;background:linear-gradient(90deg,#b30d26 0.0px,#c11b27 237.3px,#cf2927 285.4px,#db382b 318.3px,#e34933 349.8px,#ec5b3b 375.9px,#f46d43 396.5px,#f7804c 414.3px,#f99354 430.8px,#fca65d 443.1px,#fdb669 451.4px,#fdc576 459.6px,#fed586 469.2px,#fee394 477.4px,#feeda3 485.7px,#fff5b1 492.5px,#ffffbf 499.4px,#f6fccf 504.9px,#ecf8e2 510.4px,#e1f3f7 515.8px,#d0ebf3 520.0px,#bbe1ed 524.1px,#aad8e8 526.8px,#95c7df 529.6px,#7cb4d5 532.3px,#6499c7 535.1px,#497ab7 537.8px,#4064ab 539.2px,#374a9f 540.5px,#313695 541.9px,#313695 543.3px,#313695 544.7px,#313695 547.4px)"></div>
<div style="top:471.50px;height:4.60px;background:linear-gradient(90deg,#b20d26 0.0px,#c01a27 233.2px,#ce2827 285.4px,#da372a 318.3px,#e34932 349.8px,#eb5a3a 375.9px,#f46c43 396.5px,#f67f4b 414.3px,#f99254 430.8px,#fca45d 443.1px,#fdb568 451.4px,#fdc475 459.6px,#fed485 469.2px,#fee293 477.4px,#feeca2 485.7px,#fff5b0 492.5px,#ffffbe 499.4px,#f7fcce 504.9px,#edf8e0 510.4px,#e1f4f5 515.8px,#d1ecf4 520.0px,#bce2ee 524.1px,#acd9e9 526.8px,#97c9e0 529.6px,#7fb5d6 532.3px,#659cc8 535.1px,#4b7db8 537.8px,#4167ad 539.2px,#384da0 540.5px,#313695 541.9px,#313695 543.3px,#313695 544.7px,#313695 547.4px)"></div>
<div style="top:475.50px;height:4.60px;background:linear-gradient(90deg,#b10c26 0.0px,#bf1927 229.1px,#ce2727 285.4px,#da362a 318.3px,#e24732 348.5px,#ea593a 374.5px,#f36a42 395.1px,#f67c4a 413.0px,#f98f53 429.4px,#fba35c 443.1px,#fdb466 451.4px,#fdc374 459.6px,#fed181 467.8px,#fedf8f 476.1px,#feea9f 484.3px,#fff2ac 491.2px,#fffcba 498.0px,#f7fccd 504.9px,#edf8df 510.4px,#e2f4f4 515.8px,#d3ecf4 520.0px,#bee2ee 524.1px,#addaea 526.8px,#99cbe1 529.6px,#81b7d7 532.3px,#679ec9 535.1px,#4d7fb9 537.8px,#426aaf 539.2px,#3951a2 540.5px,#313695 541.9px,#313695 543.3px,#313695 544.7px,#313695 547.4px)"></div>
<div style="top:479.50px;height:4.60px;background:linear-gradient(90deg,#b10b26 0.0px,#bf1927 225.0px,#cd2627 285.4px,#d93529 318.3px,#e14631 348.5px,#ea5839 374.5px,#f26941 395.1px,#f67b4a 413.0px,#f98e52 429.4px,#fba25b 443.1px,#fdb265 451.4px,#fdc173 459.6px,#fecf80 467.8px,#fede8e 476.1px,#fee99e 484.3px,#fff2ab 491.2px,#fffbb9 498.0px,#f8fccc 504.9px,#eef8de 510.4px,#e3f4f3 515.8px,#d4edf5 520.0px,#bfe3ef 524.1px,#afdbea 526.8px,#9bcce2 529.6px,#83b9d7 532.3px,#69a0ca 535.1px,#4f81ba 537.8px,#436db0 539.2px,#3b54a4 540.5px,#323996 541.9px,#313695 543.3px,#313695 544.7px,#313695 547.4px)"></div>
<div style="top:483.50px;height:0.70px;background:linear-gradient(90deg,#b00b26 0.0px,#be1827 222.3px,#cc2527 284.0px,#d93429 316.9px,#e14530 347.1px,#e95639 373.2px,#f26941 395.1px,#f67b49 413.0px,#f88d52 429.4px,#fba15b 443.1px,#fdb467 452.7px,#fdc375 461.0px,#fed182 469.2px,#fee090 477.4px,#feeaa0 485.7px,#fff3ad 492.5px,#fffdbc 499.4px,#f8fccb 504.9px,#eff9dd 510.4px,#e3f4f2 515.8px,#d5edf5 520.0px,#c0e3ef 524.1px,#b0dbea 526.8px,#9ccde2 529.6px,#84bad8 532.3px,#6aa1cb 535.1px,#5183bb 537.8px,#436fb1 539.2px,#3b56a5 540.5px,#333b97 541.9px,#313695 543.3px,#313695 544.7px,#313695 546.0px,#313695 547.4px)"></div>
</div>
<svg width="1396" height="1199" viewBox="0 0 1396 1199">
<defs><clipPath id="ca"><rect x="116.0" y="43.5" width="547.4" height="440.7"/></clipPath></defs>
<g fill="none" stroke="#1c0404" stroke-width="1.45" clip-path="url(#ca)"><path d="M110.0,395.2 116.3,395.2 117.4,395.3 118.5,395.3 119.6,395.4 120.7,395.4 121.8,395.4 122.9,395.5 124.0,395.5 125.2,395.6 126.3,395.6 127.4,395.6 128.5,395.6 129.6,395.7 130.8,395.7 131.9,395.7 133.0,395.7 134.2,395.8 135.3,395.8 136.5,395.8 137.6,395.8 138.8,395.8 139.9,395.8 141.1,395.9 142.2,395.9 143.4,395.9 144.5,395.9 145.7,395.9 146.8,395.9 148.0,395.9 149.2,395.9 150.3,395.9 151.5,395.9 152.7,395.9 153.8,395.9 155.0,395.9 156.2,395.9 157.4,396.0 158.5,396.0 159.7,396.0 160.9,396.0 162.1,396.0 163.3,396.0 164.5,396.0 165.6,396.0 166.8,396.0 168.0,396.0 169.2,396.0 170.4,396.0 171.6,396.0 172.8,396.0 174.0,396.0 175.2,396.0 176.3,396.0 177.5,396.0 178.7,396.1 179.9,396.1 181.1,396.1 182.3,396.1 183.5,396.1 184.7,396.1 185.9,396.2 187.1,396.2 188.3,396.2 189.5,396.2 190.7,396.3 191.9,396.3 193.1,396.3 194.3,396.4 195.5,396.4 196.7,396.4 197.9,396.5 199.1,396.5 200.3,396.6 201.5,396.6 202.7,396.7 203.9,396.7 205.1,396.8 206.3,396.8 207.5,396.9 208.7,396.9 209.9,397.0 211.1,397.1 212.3,397.2 213.5,397.2 214.7,397.3 215.9,397.4 217.1,397.5 218.3,397.6 219.5,397.7 220.7,397.8 221.8,397.9 223.0,398.0 224.2,398.1 225.4,398.2 226.6,398.3 227.8,398.4 229.0,398.5 230.1,398.7 231.3,398.8 232.5,398.9 233.7,399.1 234.9,399.2 236.0,399.4 237.2,399.5 238.4,399.7 239.6,399.9 240.7,400.0 241.9,400.2 243.1,400.4 244.2,400.6 245.4,400.8 246.5,401.0 247.7,401.2 248.9,401.4 250.0,401.6 251.2,401.8 252.3,402.0 253.5,402.3 254.6,402.5 255.8,402.7 256.9,403.0 258.0,403.2 259.2,403.5 260.3,403.7 261.4,404.0 262.6,404.3 263.7,404.6 264.8,404.9 265.9,405.2 267.1,405.5 268.2,405.8 269.3,406.1 270.4,406.4 271.5,406.7 272.6,407.1 273.7,407.4 274.8,407.8 275.9,408.1 277.0,408.5 278.1,408.9 279.2,409.2 280.3,409.6 281.3,410.0 282.4,410.4 283.5,410.8 284.6,411.2 285.6,411.7 286.7,412.1 287.8,412.5 288.8,413.0 289.9,413.4 290.9,413.9 292.0,414.4 293.0,414.9 294.0,415.4 295.1,415.9 296.1,416.4 297.1,416.9 298.2,417.4 299.2,417.9 300.2,418.5 301.2,419.0 302.2,419.6 303.2,420.1 304.2,420.7 305.2,421.3 306.2,421.9 307.2,422.5 308.1,423.1 309.1,423.7 310.1,424.3 311.0,425.0 312.0,425.6 313.0,426.3 313.9,426.9 314.9,427.6 315.8,428.3 316.7,428.9 317.6,429.6 318.6,430.3 319.5,431.0 320.4,431.8 321.3,432.5 322.2,433.2 323.1,433.9 324.0,434.7 324.9,435.5 325.7,436.2 326.6,437.0 327.5,437.8 328.3,438.6 329.2,439.3 330.0,440.2 330.9,441.0 331.7,441.8 332.5,442.6 333.3,443.4 334.1,444.3 334.9,445.1 335.7,446.0 336.5,446.9 337.3,447.7 338.1,448.6 338.8,449.5 339.6,450.4 340.4,451.3 341.1,452.2 341.8,453.1 342.6,454.1 343.3,455.0 344.0,455.9 344.7,456.9 345.4,457.8 346.1,458.8 346.8,459.8 347.5,460.8 348.1,461.8 348.8,462.7 349.4,463.7 350.1,464.8 350.7,465.8 351.3,466.8 352.0,467.8 352.6,468.9 353.2,469.9 353.7,471.0 354.3,472.0 354.9,473.1 355.5,474.2 356.0,475.3 356.6,476.3 357.1,477.4 357.6,478.5 358.1,479.7 358.6,480.8 359.1,481.9 359.6,483.0 360.1,484.2 360.6,485.3 361.0,486.5"/><path d="M110.0,209.6 116.0,209.6 117.9,209.6 119.8,209.7 121.7,209.7 123.6,209.8 125.5,209.9 127.4,209.9 129.3,210.0 131.2,210.1 133.1,210.2 135.0,210.3 137.0,210.4 138.9,210.5 140.8,210.7 142.7,210.8 144.7,210.9 146.6,211.0 148.5,211.2 150.5,211.3 152.4,211.5 154.3,211.7 156.3,211.8 158.2,212.0 160.2,212.2 162.1,212.4 164.0,212.6 166.0,212.8 167.9,213.1 169.9,213.3 171.8,213.5 173.8,213.8 175.7,214.0 177.7,214.3 179.6,214.6 181.5,214.9 183.5,215.2 185.4,215.5 187.4,215.8 189.3,216.1 191.2,216.4 193.2,216.8 195.1,217.1 197.0,217.5 198.9,217.9 200.9,218.2 202.8,218.6 204.7,219.0 206.6,219.5 208.5,219.9 210.4,220.3 212.3,220.8 214.2,221.2 216.1,221.7 218.0,222.2 219.9,222.7 221.8,223.2 223.7,223.7 225.5,224.3 227.4,224.8 229.3,225.4 231.1,225.9 233.0,226.5 234.8,227.1 236.7,227.7 238.5,228.4 240.3,229.0 242.2,229.7 244.0,230.3 245.8,231.0 247.6,231.7 249.4,232.4 251.2,233.1 253.0,233.9 254.7,234.6 256.5,235.4 258.3,236.2 260.0,237.0 261.8,237.8 263.5,238.6 265.2,239.4 267.0,240.3 268.7,241.2 270.4,242.0 272.1,242.9 273.7,243.9 275.4,244.8 277.1,245.7 278.8,246.7 280.4,247.6 282.1,248.6 283.7,249.6 285.3,250.6 286.9,251.7 288.5,252.7 290.1,253.7 291.7,254.8 293.3,255.9 294.9,257.0 296.5,258.1 298.0,259.2 299.6,260.3 301.1,261.5 302.6,262.6 304.1,263.8 305.7,265.0 307.2,266.1 308.6,267.3 310.1,268.6 311.6,269.8 313.1,271.0 314.5,272.3 316.0,273.5 317.4,274.8 318.8,276.1 320.2,277.4 321.6,278.7 323.0,280.0 324.4,281.3 325.8,282.7 327.2,284.0 328.5,285.4 329.9,286.7 331.2,288.1 332.5,289.5 333.8,290.9 335.1,292.3 336.4,293.7 337.7,295.1 339.0,296.6 340.2,298.0 341.5,299.5 342.7,301.0 344.0,302.4 345.2,303.9 346.4,305.4 347.6,306.9 348.8,308.4 350.0,309.9 351.1,311.5 352.3,313.0 353.5,314.6 354.6,316.1 355.7,317.7 356.9,319.2 358.0,320.8 359.1,322.4 360.2,324.0 361.3,325.6 362.4,327.2 363.4,328.8 364.5,330.4 365.6,332.0 366.6,333.7 367.7,335.3 368.7,337.0 369.7,338.6 370.7,340.3 371.7,341.9 372.8,343.6 373.7,345.3 374.7,346.9 375.7,348.6 376.7,350.3 377.7,352.0 378.6,353.7 379.6,355.4 380.5,357.1 381.5,358.8 382.4,360.5 383.3,362.3 384.3,364.0 385.2,365.7 386.1,367.5 387.0,369.2 387.9,370.9 388.8,372.7 389.7,374.4 390.6,376.2 391.4,377.9 392.3,379.7 393.2,381.5 394.0,383.2 394.9,385.0 395.8,386.7 396.6,388.5 397.5,390.3 398.3,392.1 399.1,393.8 400.0,395.6 400.8,397.4 401.6,399.2 402.4,401.0 403.3,402.7 404.1,404.5 404.9,406.3 405.7,408.1 406.5,409.9 407.3,411.7 408.1,413.5 408.9,415.2 409.7,417.0 410.5,418.8 411.2,420.6 412.0,422.4 412.8,424.2 413.6,426.0 414.4,427.7 415.1,429.5 415.9,431.3 416.7,433.1 417.5,434.9 418.2,436.7 419.0,438.4 419.7,440.2 420.5,442.0 421.3,443.8 422.0,445.5 422.8,447.3 423.6,449.1 424.3,450.8 425.1,452.6 425.8,454.4 426.6,456.1 427.3,457.9 428.1,459.6 428.9,461.4 429.6,463.1 430.4,464.9 431.1,466.6 431.9,468.3 432.6,470.1 433.4,471.8 434.2,473.5 434.9,475.2 435.7,476.9 436.4,478.6 437.2,480.3 438.0,482.0 438.7,483.7 439.5,485.4"/><path d="M178.1,40.0 182.7,41.9 187.3,43.7 191.9,45.6 196.4,47.5 200.8,49.4 205.3,51.2 209.6,53.1 213.9,55.0 218.1,56.9 222.3,58.7 226.4,60.6 230.3,62.5 234.2,64.4 237.9,66.2 241.6,68.1 245.1,70.0 248.6,71.9 251.9,73.7 255.2,75.6 258.3,77.5 261.4,79.4 264.4,81.2 267.2,83.1 270.1,85.0 272.8,86.9 275.5,88.7 278.1,90.6 280.6,92.5 283.1,94.4 285.6,96.2 287.9,98.1 290.3,100.0 292.5,101.9 294.8,103.7 297.0,105.6 299.2,107.5 301.3,109.4 303.4,111.2 305.5,113.1 307.5,115.0 309.6,116.9 311.6,118.7 313.5,120.6 315.5,122.5 317.4,124.4 319.3,126.2 321.1,128.1 323.0,130.0 324.8,131.8 326.6,133.7 328.4,135.6 330.1,137.5 331.8,139.3 333.5,141.2 335.2,143.1 336.9,145.0 338.5,146.8 340.1,148.7 341.7,150.6 343.2,152.5 344.8,154.3 346.3,156.2 347.8,158.1 349.3,160.0 350.8,161.8 352.2,163.7 353.7,165.6 355.1,167.5 356.5,169.3 357.8,171.2 359.2,173.1 360.5,175.0 361.9,176.8 363.2,178.7 364.5,180.6 365.7,182.5 367.0,184.3 368.3,186.2 369.5,188.1 370.7,190.0 371.9,191.8 373.1,193.7 374.3,195.6 375.5,197.5 376.6,199.3 377.8,201.2 378.9,203.1 380.0,205.0 381.2,206.8 382.3,208.7 383.4,210.6 384.4,212.5 385.5,214.3 386.6,216.2 387.6,218.1 388.7,219.9 389.7,221.8 390.8,223.7 391.8,225.6 392.8,227.4 393.8,229.3 394.8,231.2 395.8,233.1 396.8,234.9 397.8,236.8 398.8,238.7 399.7,240.6 400.7,242.4 401.6,244.3 402.6,246.2 403.5,248.1 404.4,249.9 405.4,251.8 406.3,253.7 407.2,255.6 408.1,257.4 409.0,259.3 409.9,261.2 410.8,263.1 411.7,264.9 412.5,266.8 413.4,268.7 414.3,270.6 415.1,272.4 416.0,274.3 416.8,276.2 417.7,278.1 418.5,279.9 419.3,281.8 420.1,283.7 421.0,285.6 421.8,287.4 422.6,289.3 423.4,291.2 424.2,293.1 425.0,294.9 425.8,296.8 426.6,298.7 427.4,300.6 428.1,302.4 428.9,304.3 429.7,306.2 430.5,308.1 431.2,309.9 432.0,311.8 432.7,313.7 433.5,315.5 434.2,317.4 435.0,319.3 435.7,321.2 436.5,323.0 437.2,324.9 438.0,326.8 438.7,328.7 439.4,330.5 440.2,332.4 440.9,334.3 441.6,336.2 442.3,338.0 443.0,339.9 443.8,341.8 444.5,343.7 445.2,345.5 445.9,347.4 446.6,349.3 447.3,351.2 448.0,353.0 448.7,354.9 449.4,356.8 450.2,358.7 450.9,360.5 451.6,362.4 452.3,364.3 453.0,366.2 453.7,368.0 454.4,369.9 455.1,371.8 455.8,373.7 456.5,375.5 457.2,377.4 457.9,379.3 458.6,381.2 459.3,383.0 459.9,384.9 460.6,386.8 461.3,388.7 462.0,390.5 462.7,392.4 463.4,394.3 464.1,396.2 464.8,398.0 465.5,399.9 466.2,401.8 466.9,403.6 467.6,405.5 468.2,407.4 468.9,409.3 469.6,411.1 470.3,413.0 470.9,414.9 471.6,416.8 472.3,418.6 472.9,420.5 473.6,422.4 474.2,424.3 474.9,426.1 475.5,428.0 476.2,429.9 476.8,431.8 477.4,433.6 478.1,435.5 478.7,437.4 479.3,439.3 479.9,441.1 480.5,443.0 481.1,444.9 481.7,446.8 482.3,448.6 482.9,450.5 483.5,452.4 484.1,454.3 484.6,456.1 485.2,458.0 485.7,459.9 486.3,461.8 486.8,463.6 487.3,465.5 487.9,467.4 488.4,469.3 488.9,471.1 489.4,473.0 489.9,474.9 490.4,476.8 490.9,478.6 491.3,480.5 491.8,482.4 492.2,484.3 492.7,486.1 493.1,488.0"/><path d="M367.5,40.0 368.6,41.9 369.7,43.7 370.8,45.6 371.9,47.5 372.9,49.4 374.0,51.2 375.1,53.1 376.1,55.0 377.2,56.9 378.2,58.7 379.3,60.6 380.3,62.5 381.3,64.4 382.4,66.2 383.4,68.1 384.4,70.0 385.4,71.9 386.4,73.7 387.4,75.6 388.4,77.5 389.4,79.4 390.4,81.2 391.4,83.1 392.4,85.0 393.4,86.9 394.4,88.7 395.3,90.6 396.3,92.5 397.3,94.4 398.2,96.2 399.2,98.1 400.1,100.0 401.1,101.9 402.0,103.7 402.9,105.6 403.9,107.5 404.8,109.4 405.7,111.2 406.6,113.1 407.5,115.0 408.5,116.9 409.4,118.7 410.3,120.6 411.2,122.5 412.1,124.4 412.9,126.2 413.8,128.1 414.7,130.0 415.6,131.8 416.5,133.7 417.3,135.6 418.2,137.5 419.1,139.3 419.9,141.2 420.8,143.1 421.6,145.0 422.5,146.8 423.3,148.7 424.2,150.6 425.0,152.5 425.8,154.3 426.6,156.2 427.5,158.1 428.3,160.0 429.1,161.8 429.9,163.7 430.7,165.6 431.5,167.5 432.3,169.3 433.1,171.2 433.9,173.1 434.7,175.0 435.5,176.8 436.3,178.7 437.1,180.6 437.8,182.5 438.6,184.3 439.4,186.2 440.2,188.1 440.9,190.0 441.7,191.8 442.4,193.7 443.2,195.6 443.9,197.5 444.7,199.3 445.4,201.2 446.2,203.1 446.9,205.0 447.6,206.8 448.4,208.7 449.1,210.6 449.8,212.5 450.5,214.3 451.2,216.2 452.0,218.1 452.7,219.9 453.4,221.8 454.1,223.7 454.8,225.6 455.5,227.4 456.2,229.3 456.9,231.2 457.6,233.1 458.2,234.9 458.9,236.8 459.6,238.7 460.3,240.6 460.9,242.4 461.6,244.3 462.3,246.2 463.0,248.1 463.6,249.9 464.3,251.8 464.9,253.7 465.6,255.6 466.2,257.4 466.9,259.3 467.5,261.2 468.2,263.1 468.8,264.9 469.4,266.8 470.1,268.7 470.7,270.6 471.3,272.4 472.0,274.3 472.6,276.2 473.2,278.1 473.8,279.9 474.4,281.8 475.1,283.7 475.7,285.6 476.3,287.4 476.9,289.3 477.5,291.2 478.1,293.1 478.7,294.9 479.3,296.8 479.9,298.7 480.5,300.6 481.1,302.4 481.6,304.3 482.2,306.2 482.8,308.1 483.4,309.9 484.0,311.8 484.5,313.7 485.1,315.5 485.7,317.4 486.3,319.3 486.8,321.2 487.4,323.0 487.9,324.9 488.5,326.8 489.1,328.7 489.6,330.5 490.2,332.4 490.7,334.3 491.3,336.2 491.8,338.0 492.4,339.9 492.9,341.8 493.4,343.7 494.0,345.5 494.5,347.4 495.1,349.3 495.6,351.2 496.1,353.0 496.7,354.9 497.2,356.8 497.7,358.7 498.2,360.5 498.8,362.4 499.3,364.3 499.8,366.2 500.3,368.0 500.8,369.9 501.3,371.8 501.9,373.7 502.4,375.5 502.9,377.4 503.4,379.3 503.9,381.2 504.4,383.0 504.9,384.9 505.4,386.8 505.9,388.7 506.4,390.5 506.9,392.4 507.4,394.3 507.9,396.2 508.4,398.0 508.9,399.9 509.3,401.8 509.8,403.6 510.3,405.5 510.8,407.4 511.3,409.3 511.8,411.1 512.2,413.0 512.7,414.9 513.2,416.8 513.7,418.6 514.2,420.5 514.6,422.4 515.1,424.3 515.6,426.1 516.0,428.0 516.5,429.9 517.0,431.8 517.5,433.6 517.9,435.5 518.4,437.4 518.9,439.3 519.3,441.1 519.8,443.0 520.2,444.9 520.7,446.8 521.2,448.6 521.6,450.5 522.1,452.4 522.5,454.3 523.0,456.1 523.4,458.0 523.9,459.9 524.3,461.8 524.8,463.6 525.2,465.5 525.7,467.4 526.1,469.3 526.6,471.1 527.0,473.0 527.5,474.9 527.9,476.8 528.4,478.6 528.8,480.5 529.3,482.4 529.7,484.3 530.2,486.1 530.6,488.0"/><path d="M437.8,40.0 438.5,41.9 439.2,43.7 439.9,45.6 440.6,47.5 441.4,49.4 442.1,51.2 442.8,53.1 443.5,55.0 444.2,56.9 444.9,58.7 445.5,60.6 446.2,62.5 446.9,64.4 447.6,66.2 448.3,68.1 449.0,70.0 449.7,71.9 450.3,73.7 451.0,75.6 451.7,77.5 452.4,79.4 453.0,81.2 453.7,83.1 454.4,85.0 455.0,86.9 455.7,88.7 456.4,90.6 457.0,92.5 457.7,94.4 458.3,96.2 459.0,98.1 459.6,100.0 460.3,101.9 460.9,103.7 461.6,105.6 462.2,107.5 462.9,109.4 463.5,111.2 464.1,113.1 464.8,115.0 465.4,116.9 466.0,118.7 466.7,120.6 467.3,122.5 467.9,124.4 468.5,126.2 469.2,128.1 469.8,130.0 470.4,131.8 471.0,133.7 471.6,135.6 472.2,137.5 472.8,139.3 473.5,141.2 474.1,143.1 474.7,145.0 475.3,146.8 475.9,148.7 476.5,150.6 477.1,152.5 477.7,154.3 478.3,156.2 478.8,158.1 479.4,160.0 480.0,161.8 480.6,163.7 481.2,165.6 481.8,167.5 482.4,169.3 482.9,171.2 483.5,173.1 484.1,175.0 484.7,176.8 485.2,178.7 485.8,180.6 486.4,182.5 486.9,184.3 487.5,186.2 488.1,188.1 488.6,190.0 489.2,191.8 489.7,193.7 490.3,195.6 490.9,197.5 491.4,199.3 492.0,201.2 492.5,203.1 493.1,205.0 493.6,206.8 494.2,208.7 494.7,210.6 495.2,212.5 495.8,214.3 496.3,216.2 496.8,218.1 497.4,219.9 497.9,221.8 498.4,223.7 499.0,225.6 499.5,227.4 500.0,229.3 500.6,231.2 501.1,233.1 501.6,234.9 502.1,236.8 502.6,238.7 503.2,240.6 503.7,242.4 504.2,244.3 504.7,246.2 505.2,248.1 505.7,249.9 506.2,251.8 506.7,253.7 507.2,255.6 507.7,257.4 508.2,259.3 508.7,261.2 509.2,263.1 509.7,264.9 510.2,266.8 510.7,268.7 511.2,270.6 511.7,272.4 512.2,274.3 512.7,276.2 513.1,278.1 513.6,279.9 514.1,281.8 514.6,283.7 515.1,285.6 515.6,287.4 516.0,289.3 516.5,291.2 517.0,293.1 517.4,294.9 517.9,296.8 518.4,298.7 518.9,300.6 519.3,302.4 519.8,304.3 520.3,306.2 520.7,308.1 521.2,309.9 521.6,311.8 522.1,313.7 522.5,315.5 523.0,317.4 523.5,319.3 523.9,321.2 524.4,323.0 524.8,324.9 525.3,326.8 525.7,328.7 526.1,330.5 526.6,332.4 527.0,334.3 527.5,336.2 527.9,338.0 528.4,339.9 528.8,341.8 529.2,343.7 529.7,345.5 530.1,347.4 530.5,349.3 531.0,351.2 531.4,353.0 531.8,354.9 532.2,356.8 532.7,358.7 533.1,360.5 533.5,362.4 533.9,364.3 534.3,366.2 534.8,368.0 535.2,369.9 535.6,371.8 536.0,373.7 536.4,375.5 536.8,377.4 537.3,379.3 537.7,381.2 538.1,383.0 538.5,384.9 538.9,386.8 539.3,388.7 539.7,390.5 540.1,392.4 540.5,394.3 540.9,396.2 541.3,398.0 541.7,399.9 542.1,401.8 542.5,403.6 542.9,405.5 543.3,407.4 543.7,409.3 544.1,411.1 544.4,413.0 544.8,414.9 545.2,416.8 545.6,418.6 546.0,420.5 546.4,422.4 546.8,424.3 547.1,426.1 547.5,428.0 547.9,429.9 548.3,431.8 548.7,433.6 549.0,435.5 549.4,437.4 549.8,439.3 550.2,441.1 550.5,443.0 550.9,444.9 551.3,446.8 551.6,448.6 552.0,450.5 552.4,452.4 552.7,454.3 553.1,456.1 553.5,458.0 553.8,459.9 554.2,461.8 554.6,463.6 554.9,465.5 555.3,467.4 555.6,469.3 556.0,471.1 556.3,473.0 556.7,474.9 557.1,476.8 557.4,478.6 557.8,480.5 558.1,482.4 558.5,484.3 558.8,486.1 559.2,488.0"/></g>
<path d="M298.5 484.2v-7.5M298.5 43.5v7.5M480.9 484.2v-7.5M480.9 43.5v7.5M116.0 454.5h7.5M663.4 454.5h-7.5M116.0 359.1h7.5M663.4 359.1h-7.5M116.0 263.6h7.5M663.4 263.6h-7.5M116.0 168.1h7.5M663.4 168.1h-7.5M116.0 72.7h7.5M663.4 72.7h-7.5" stroke="#000" stroke-width="4.0" fill="none"/><rect x="116.0" y="43.5" width="547.4" height="440.7" fill="none" stroke="#000" stroke-width="4.0"/>
<defs><linearGradient id="cb" x1="0" x2="1" y1="0" y2="0"><stop offset="0.000" stop-color="#3b58a6"/><stop offset="0.100" stop-color="#4575b4"/><stop offset="0.200" stop-color="#74add1"/><stop offset="0.300" stop-color="#abd9e9"/><stop offset="0.400" stop-color="#e0f3f8"/><stop offset="0.515" stop-color="#ffffbf"/><stop offset="0.610" stop-color="#fee090"/><stop offset="0.700" stop-color="#fdae61"/><stop offset="0.790" stop-color="#f46d43"/><stop offset="0.890" stop-color="#d73027"/><stop offset="1.000" stop-color="#a50026"/></linearGradient></defs>
<rect x="483.4" y="1.1" width="129.0" height="29.0" fill="url(#cb)" stroke="#000" stroke-width="2.2"/>
<rect x="985.0" y="43.5" width="82.3" height="440.7" fill="#ebe8de"/>
<rect x="1146.0" y="43.5" width="64.8" height="440.7" fill="#ebe8de"/>
<rect x="266.0" y="656.1" width="83.5" height="437.7" fill="#ebe8de"/>
<rect x="427.5" y="656.1" width="64.0" height="437.7" fill="#ebe8de"/>
<rect x="985.4" y="656.1" width="81.7" height="437.7" fill="#ebe8de"/>
<rect x="1146.0" y="656.1" width="64.1" height="437.7" fill="#ebe8de"/>
<text transform="translate(17.50 24.00) scale(0.965 1)" text-anchor="middle" font-size="30.0" font-weight="bold">a</text>
<text transform="translate(742.00 24.00) scale(0.965 1)" text-anchor="middle" font-size="30.0" font-weight="bold">b</text>
<text transform="translate(16.20 643.00) scale(0.965 1)" text-anchor="middle" font-size="30.0" font-weight="bold">c</text>
<text transform="translate(741.70 642.70) scale(0.965 1)" text-anchor="middle" font-size="30.0" font-weight="bold">d</text>
<text transform="translate(360.90 23.60) scale(0.965 1)" text-anchor="middle" font-size="30.0">Gap (meV)</text>
<text transform="translate(464.80 26.30) scale(0.965 1)" text-anchor="middle" font-size="30.0">8</text>
<text transform="translate(636.80 27.30) scale(0.965 1)" text-anchor="middle" font-size="30.0">17</text>
<text transform="translate(91.70 83.50) scale(0.965 1)" text-anchor="middle" font-size="30.0">3</text>
<text transform="translate(92.50 275.00) scale(0.965 1)" text-anchor="middle" font-size="30.0">2</text>
<text transform="translate(93.40 465.00) scale(0.965 1)" text-anchor="middle" font-size="30.0">1</text>
<text transform="translate(116.40 531.50) scale(0.965 1)" text-anchor="middle" font-size="30.0">-0.5</text>
<text transform="translate(297.80 531.50) scale(0.965 1)" text-anchor="middle" font-size="30.0">0</text>
<text transform="translate(479.10 531.50) scale(0.965 1)" text-anchor="middle" font-size="30.0">0.5</text>
<text transform="translate(660.50 531.50) scale(0.965 1)" text-anchor="middle" font-size="30.0">1</text>
<text transform="translate(389.60 583.50) scale(0.965 1)" text-anchor="middle" font-size="30.0"><tspan font-style="italic">&#181;</tspan><tspan font-size="19.0" dy="6">m</tspan><tspan dy="-6">/</tspan><tspan font-style="italic">E</tspan><tspan font-size="19.0" dy="6">z</tspan></text>
<text transform="translate(33.50 263.10) rotate(-90) scale(0.965 1)" text-anchor="middle" font-size="30.0"><tspan font-style="italic">T</tspan> (K)</text>
<text transform="translate(269.10 446.00) scale(0.965 1)" text-anchor="middle" font-size="30.0">16.5</text>
<text transform="translate(318.70 334.50) scale(0.965 1)" text-anchor="middle" font-size="30.0">16</text>
<text transform="translate(341.80 227.50) scale(0.965 1)" text-anchor="middle" font-size="30.0">15.5</text>
<text transform="translate(381.60 140.00) scale(0.965 1)" text-anchor="middle" font-size="30.0">15</text>
<text transform="translate(485.70 95.50) scale(0.965 1)" text-anchor="middle" font-size="30.0">14.5</text>
<text transform="translate(930.10 121.50) scale(0.965 1)" text-anchor="middle" font-size="30.0">High</text>
<text transform="translate(1301.60 121.30) scale(0.965 1)" text-anchor="middle" font-size="30.0">High</text>
<text transform="translate(1025.40 183.90) scale(0.965 1)" text-anchor="middle" font-size="30.0">Med.</text>
<text transform="translate(1177.30 183.50) scale(0.965 1)" text-anchor="middle" font-size="30.0">Med.</text>
<text transform="translate(1106.80 370.80) scale(0.965 1)" text-anchor="middle" font-size="30.0">No</text>
<text transform="translate(1106.40 407.70) scale(0.965 1)" text-anchor="middle" font-size="30.0">mag.</text>
<text transform="translate(796.70 165.00) scale(0.965 1)" text-anchor="middle" font-size="30.0">0.5</text>
<text transform="translate(811.20 321.50) scale(0.965 1)" text-anchor="middle" font-size="30.0">0</text>
<text transform="translate(790.00 479.00) scale(0.965 1)" text-anchor="middle" font-size="30.0">-0.5</text>
<text transform="translate(758.00 263.20) rotate(-90) scale(0.965 1)" text-anchor="middle" font-size="30.0"><tspan font-style="italic">&#181;</tspan><tspan font-size="19.0" dy="6">m</tspan><tspan dy="-6">/</tspan><tspan font-style="italic">E</tspan><tspan font-size="19.0" dy="6">z</tspan></text>
<text transform="translate(1108.70 583.10) scale(0.965 1)" text-anchor="middle" font-size="30.0"><tspan font-style="italic">V</tspan><tspan font-size="19.0" dy="6">DC</tspan><tspan dy="-6"> (mV)</tspan></text>
<text transform="translate(834.20 531.00) scale(0.965 1)" text-anchor="middle" font-size="30.0">-10</text>
<text transform="translate(971.10 531.00) scale(0.965 1)" text-anchor="middle" font-size="30.0">-5</text>
<text transform="translate(1108.00 531.00) scale(0.965 1)" text-anchor="middle" font-size="30.0">0</text>
<text transform="translate(1244.90 531.00) scale(0.965 1)" text-anchor="middle" font-size="30.0">5</text>
<text transform="translate(1380.60 531.00) scale(0.965 1)" text-anchor="middle" font-size="30.0">10</text>
<text transform="translate(114.80 1140.80) scale(0.965 1)" text-anchor="middle" font-size="30.0">-10</text>
<text transform="translate(251.65 1140.80) scale(0.965 1)" text-anchor="middle" font-size="30.0">-5</text>
<text transform="translate(388.50 1140.80) scale(0.965 1)" text-anchor="middle" font-size="30.0">0</text>
<text transform="translate(525.35 1140.80) scale(0.965 1)" text-anchor="middle" font-size="30.0">5</text>
<text transform="translate(662.20 1140.80) scale(0.965 1)" text-anchor="middle" font-size="30.0">10</text>
<text transform="translate(834.20 1140.60) scale(0.965 1)" text-anchor="middle" font-size="30.0">-10</text>
<text transform="translate(971.10 1140.60) scale(0.965 1)" text-anchor="middle" font-size="30.0">-5</text>
<text transform="translate(1108.00 1140.60) scale(0.965 1)" text-anchor="middle" font-size="30.0">0</text>
<text transform="translate(1244.90 1140.60) scale(0.965 1)" text-anchor="middle" font-size="30.0">5</text>
<text transform="translate(1380.60 1140.60) scale(0.965 1)" text-anchor="middle" font-size="30.0">10</text>
<text transform="translate(218.70 737.70) scale(0.965 1)" text-anchor="middle" font-size="30.0">High</text>
<text transform="translate(573.00 737.70) scale(0.965 1)" text-anchor="middle" font-size="30.0">High</text>
<text transform="translate(307.40 800.30) scale(0.965 1)" text-anchor="middle" font-size="30.0">Med.</text>
<text transform="translate(459.40 800.30) scale(0.965 1)" text-anchor="middle" font-size="30.0">Med.</text>
<text transform="translate(387.90 905.30) scale(0.965 1)" text-anchor="middle" font-size="30.0">No</text>
<text transform="translate(387.60 942.10) scale(0.965 1)" text-anchor="middle" font-size="30.0">mag.</text>
<text transform="translate(93.00 1103.70) scale(0.965 1)" text-anchor="middle" font-size="30.0">0</text>
<text transform="translate(77.50 975.00) scale(0.965 1)" text-anchor="middle" font-size="30.0">0.5</text>
<text transform="translate(95.90 847.00) scale(0.965 1)" text-anchor="middle" font-size="30.0">1</text>
<text transform="translate(79.00 717.90) scale(0.965 1)" text-anchor="middle" font-size="30.0">1.5</text>
<text transform="translate(26.80 873.50) rotate(-90) scale(0.965 1)" text-anchor="middle" font-size="30.0"><tspan font-style="italic">n</tspan><tspan font-size="19.0" dy="6">m</tspan><tspan dy="-6"> (10</tspan><tspan font-size="19.0" dy="-12">-3</tspan><tspan dy="12"> &#966;</tspan><tspan font-size="19.0" dy="6">0</tspan><tspan font-size="19.0" dy="-18">-1</tspan><tspan dy="12">)</tspan></text>
<text transform="translate(389.30 1192.80) scale(0.965 1)" text-anchor="middle" font-size="30.0"><tspan font-style="italic">V</tspan><tspan font-size="19.0" dy="6">DC</tspan><tspan dy="-6"> (mV)</tspan></text>
<text transform="translate(930.20 737.80) scale(0.965 1)" text-anchor="middle" font-size="30.0">High</text>
<text transform="translate(1301.70 737.80) scale(0.965 1)" text-anchor="middle" font-size="30.0">High</text>
<text transform="translate(1026.30 800.40) scale(0.965 1)" text-anchor="middle" font-size="30.0">Med.</text>
<text transform="translate(1177.50 800.40) scale(0.965 1)" text-anchor="middle" font-size="30.0">Med.</text>
<text transform="translate(1107.30 905.80) scale(0.965 1)" text-anchor="middle" font-size="30.0">No</text>
<text transform="translate(1106.40 942.00) scale(0.965 1)" text-anchor="middle" font-size="30.0">mag.</text>
<text transform="translate(812.00 1104.10) scale(0.965 1)" text-anchor="middle" font-size="30.0">0</text>
<text transform="translate(814.70 905.50) scale(0.965 1)" text-anchor="middle" font-size="30.0">1</text>
<text transform="translate(811.00 705.10) scale(0.965 1)" text-anchor="middle" font-size="30.0">2</text>
<text transform="translate(754.30 874.60) rotate(-90) scale(0.965 1)" text-anchor="middle" font-size="30.0">&lt;<tspan font-style="italic">s</tspan>&gt;</text>
<text transform="translate(1108.70 1192.80) scale(0.965 1)" text-anchor="middle" font-size="30.0"><tspan font-style="italic">V</tspan><tspan font-size="19.0" dy="6">DC</tspan><tspan dy="-6"> (mV)</tspan></text>
<path d="M972.3 484.2v-7.5M972.3 43.5v7.5M1109.2 484.2v-7.5M1109.2 43.5v7.5M1246.1 484.2v-7.5M1246.1 43.5v7.5M835.4 152.9h7.5M1383.0 152.9h-7.5M835.4 310.7h7.5M1383.0 310.7h-7.5M835.4 468.5h7.5M1383.0 468.5h-7.5" stroke="#000" stroke-width="4.0" fill="none"/><rect x="835.4" y="43.5" width="547.6" height="440.7" fill="none" stroke="#000" stroke-width="4.0"/>
<path d="M252.8 1093.8v-7.5M252.8 656.1v7.5M389.7 1093.8v-7.5M389.7 656.1v7.5M526.5 1093.8v-7.5M526.5 656.1v7.5M116.0 964.8h7.5M663.4 964.8h-7.5M116.0 836.2h7.5M663.4 836.2h-7.5M116.0 707.6h7.5M663.4 707.6h-7.5" stroke="#000" stroke-width="4.0" fill="none"/><rect x="116.0" y="656.1" width="547.4" height="437.7" fill="none" stroke="#000" stroke-width="4.0"/>
<path d="M972.3 1093.8v-7.5M972.3 656.1v7.5M1109.2 1093.8v-7.5M1109.2 656.1v7.5M1246.1 1093.8v-7.5M1246.1 656.1v7.5M835.4 994.0h7.5M1383.0 994.0h-7.5M835.4 894.3h7.5M1383.0 894.3h-7.5M835.4 794.5h7.5M1383.0 794.5h-7.5M835.4 694.8h7.5M1383.0 694.8h-7.5" stroke="#000" stroke-width="4.0" fill="none"/><rect x="835.4" y="656.1" width="547.6" height="437.7" fill="none" stroke="#000" stroke-width="4.0"/>
<path d="M835.4 152.9V187.4M846.4 153.0V183.8M857.3 148.0V163.4M868.3 157.1V190.5M879.2 161.0V196.7M890.2 161.0V202.0M901.1 173.8V215.1M912.1 188.0V243.7M923.0 181.1V230.1M934.0 200.5V259.3M944.9 190.1V241.6M955.9 198.0V265.2M966.8 236.0V364.7M977.8 240.5V343.8M988.7 270.0V467.5M999.7 368.0V467.5M1010.6 353.8V467.5M1021.6 276.3V467.5M1032.5 352.5V467.5M1043.5 302.5V467.5M1054.4 197.5V467.5M1065.4 272.0V318.8M1153.0 231.3V467.5M1164.0 292.0V467.5M1174.9 282.5V467.5M1185.9 392.0V467.5M1196.8 265.0V467.5M1207.8 258.8V467.5M1218.7 297.5V467.5M1229.7 265.0V467.5M1240.6 385.5V467.5M1251.6 315.8V467.5M1262.5 314.3V467.5M1273.5 260.5V467.5M1284.4 244.3V467.5M1295.4 206.5V309.3M1306.3 255.0V467.5M1317.3 212.0V295.0M1328.2 200.0V255.3M1339.2 198.3V254.2M1350.1 180.0V245.3M1361.1 150.8V183.3M1372.0 160.0V195.8M1383.0 148.0V180.8" stroke="#dfac3a" stroke-width="2.0" fill="none"/>
<g fill="#eaab22"><circle cx="835.4" cy="162.3" r="7.2"/><circle cx="846.4" cy="160.9" r="7.2"/><circle cx="857.3" cy="152.9" r="7.2"/><circle cx="868.3" cy="167.5" r="7.2"/><circle cx="879.2" cy="166.5" r="7.2"/><circle cx="890.2" cy="166.5" r="7.2"/><circle cx="901.1" cy="183.8" r="7.2"/><circle cx="912.1" cy="192.6" r="7.2"/><circle cx="923.0" cy="193.6" r="7.2"/><circle cx="934.0" cy="214.5" r="7.2"/><circle cx="944.9" cy="203.0" r="7.2"/><circle cx="955.9" cy="203.0" r="7.2"/><circle cx="966.8" cy="241.6" r="7.2"/><circle cx="977.8" cy="258.5" r="7.2"/><circle cx="988.7" cy="275.0" r="7.2"/><circle cx="999.7" cy="386.2" r="7.2"/><circle cx="1010.6" cy="383.8" r="7.2"/><circle cx="1021.6" cy="296.3" r="7.2"/><circle cx="1032.5" cy="383.8" r="7.2"/><circle cx="1043.5" cy="385.0" r="7.2"/><circle cx="1054.4" cy="332.5" r="7.2"/><circle cx="1065.4" cy="278.8" r="7.2"/><circle cx="1076.3" cy="310.5" r="7.2"/><circle cx="1087.3" cy="310.5" r="7.2"/><circle cx="1098.2" cy="310.5" r="7.2"/><circle cx="1109.2" cy="310.5" r="7.2"/><circle cx="1120.2" cy="310.5" r="7.2"/><circle cx="1131.1" cy="310.5" r="7.2"/><circle cx="1142.1" cy="310.5" r="7.2"/><circle cx="1153.0" cy="349.8" r="7.2"/><circle cx="1164.0" cy="379.5" r="7.2"/><circle cx="1174.9" cy="375.0" r="7.2"/><circle cx="1185.9" cy="429.5" r="7.2"/><circle cx="1196.8" cy="366.3" r="7.2"/><circle cx="1207.8" cy="363.3" r="7.2"/><circle cx="1218.7" cy="382.5" r="7.2"/><circle cx="1229.7" cy="366.3" r="7.2"/><circle cx="1240.6" cy="406.3" r="7.2"/><circle cx="1251.6" cy="376.8" r="7.2"/><circle cx="1262.5" cy="377.5" r="7.2"/><circle cx="1273.5" cy="282.0" r="7.2"/><circle cx="1284.4" cy="260.8" r="7.2"/><circle cx="1295.4" cy="216.3" r="7.2"/><circle cx="1306.3" cy="262.0" r="7.2"/><circle cx="1317.3" cy="217.5" r="7.2"/><circle cx="1328.2" cy="205.8" r="7.2"/><circle cx="1339.2" cy="206.3" r="7.2"/><circle cx="1350.1" cy="185.0" r="7.2"/><circle cx="1361.1" cy="160.8" r="7.2"/><circle cx="1372.0" cy="168.7" r="7.2"/><circle cx="1383.0" cy="153.3" r="7.2"/></g>
<path d="M116.0 726.4V996.6M126.9 692.0V1000.2M137.9 688.7V994.7M148.8 777.3V1021.0M159.8 744.3V1015.9M170.7 753.4V1011.3M181.7 826.8V1047.4M192.6 875.0V1055.9M203.6 866.7V1058.1M214.5 935.0V1075.5M225.5 901.5V1068.2M236.4 909.0V1066.3M247.4 992.0V1089.3M258.3 1016.3V1093.0M269.3 1049.0V1093.0M302.1 1079.0V1093.0M477.3 1063.2V1093.0M488.2 1051.2V1093.0M499.2 1067.2V1093.0M510.1 1047.2V1093.0M532.0 1065.3V1093.0M543.0 1065.3V1093.0M553.9 1033.2V1093.0M564.9 1014.0V1093.0M575.8 944.0V1076.2M586.8 1013.6V1093.0M597.7 940.0V1075.2M608.7 904.0V1066.0M619.6 901.6V1066.0M630.6 849.3V1039.0M641.5 727.6V998.4M652.5 740.1V1015.6M663.4 656.1V971.0" stroke="#712f7e" stroke-width="2.0" fill="none"/>
<g fill="#7e2b8f"><circle cx="116.0" cy="796.5" r="7.2"/><circle cx="126.9" cy="800.7" r="7.2"/><circle cx="137.9" cy="760.8" r="7.2"/><circle cx="148.8" cy="840.6" r="7.2"/><circle cx="159.8" cy="841.9" r="7.2"/><circle cx="170.7" cy="840.0" r="7.2"/><circle cx="181.7" cy="907.0" r="7.2"/><circle cx="192.6" cy="936.5" r="7.2"/><circle cx="203.6" cy="935.0" r="7.2"/><circle cx="214.5" cy="986.0" r="7.2"/><circle cx="225.5" cy="963.0" r="7.2"/><circle cx="236.4" cy="963.0" r="7.2"/><circle cx="247.4" cy="1026.0" r="7.2"/><circle cx="258.3" cy="1042.3" r="7.2"/><circle cx="269.3" cy="1067.8" r="7.2"/><circle cx="280.2" cy="1089.5" r="7.2"/><circle cx="291.2" cy="1091.0" r="7.2"/><circle cx="302.1" cy="1086.5" r="7.2"/><circle cx="313.1" cy="1093.0" r="7.2"/><circle cx="324.0" cy="1093.0" r="7.2"/><circle cx="335.0" cy="1093.0" r="7.2"/><circle cx="345.9" cy="1093.0" r="7.2"/><circle cx="356.9" cy="1093.0" r="7.2"/><circle cx="367.8" cy="1093.0" r="7.2"/><circle cx="378.8" cy="1093.0" r="7.2"/><circle cx="389.7" cy="1093.0" r="7.2"/><circle cx="400.6" cy="1093.0" r="7.2"/><circle cx="411.6" cy="1093.0" r="7.2"/><circle cx="422.5" cy="1093.0" r="7.2"/><circle cx="433.5" cy="1093.0" r="7.2"/><circle cx="444.4" cy="1093.0" r="7.2"/><circle cx="455.4" cy="1093.0" r="7.2"/><circle cx="466.3" cy="1093.0" r="7.2"/><circle cx="477.3" cy="1085.0" r="7.2"/><circle cx="488.2" cy="1082.7" r="7.2"/><circle cx="499.2" cy="1085.0" r="7.2"/><circle cx="510.1" cy="1081.0" r="7.2"/><circle cx="521.1" cy="1089.3" r="7.2"/><circle cx="532.0" cy="1083.7" r="7.2"/><circle cx="543.0" cy="1083.9" r="7.2"/><circle cx="553.9" cy="1057.2" r="7.2"/><circle cx="564.9" cy="1042.2" r="7.2"/><circle cx="575.8" cy="985.6" r="7.2"/><circle cx="586.8" cy="1042.3" r="7.2"/><circle cx="597.7" cy="985.0" r="7.2"/><circle cx="608.7" cy="961.6" r="7.2"/><circle cx="619.6" cy="961.0" r="7.2"/><circle cx="630.6" cy="905.6" r="7.2"/><circle cx="641.5" cy="798.6" r="7.2"/><circle cx="652.5" cy="837.4" r="7.2"/><circle cx="663.4" cy="761.6" r="7.2"/></g>
<path d="M835.4 716.9V821.3M846.4 726.7V813.6M857.3 689.3V769.2M868.3 731.8V827.1M879.2 749.6V840.0M890.2 757.0V850.0M901.1 787.9V875.0M912.1 820.0V921.7M923.0 807.3V900.7M934.0 847.7V946.2M944.9 826.7V920.1M955.9 840.0V952.3M966.8 908.0V1055.8M977.8 920.3V1046.0M988.7 957.0V1088.4M999.7 1052.0V1088.4M1010.6 1048.7V1089.5M1021.6 969.7V1089.5M1032.5 1058.0V1089.5M1043.5 1014.6V1092.7M1054.4 854.8V1092.7M1065.4 969.7V1063.4M1153.0 904.8V1092.0M1164.0 999.4V1093.0M1174.9 983.6V1093.0M1185.9 1073.2V1093.0M1196.8 952.4V1088.4M1207.8 942.4V1088.4M1218.7 991.4V1087.3M1229.7 949.5V1086.9M1240.6 1060.0V1086.9M1251.6 1008.1V1086.9M1262.5 1006.6V1086.2M1273.5 943.0V1086.2M1284.4 918.5V1086.2M1295.4 853.0V1006.6M1306.3 937.6V1086.9M1317.3 868.0V991.4M1328.2 842.3V939.3M1339.2 841.0V936.5M1350.1 791.1V922.5M1361.1 713.0V813.4M1372.0 751.1V839.0M1383.0 712.5V804.7" stroke="#80a84a" stroke-width="2.0" fill="none"/>
<g fill="#78ac30"><circle cx="835.4" cy="748.9" r="7.2"/><circle cx="846.4" cy="744.2" r="7.2"/><circle cx="857.3" cy="722.0" r="7.2"/><circle cx="868.3" cy="764.1" r="7.2"/><circle cx="879.2" cy="764.1" r="7.2"/><circle cx="890.2" cy="762.2" r="7.2"/><circle cx="901.1" cy="806.8" r="7.2"/><circle cx="912.1" cy="825.3" r="7.2"/><circle cx="923.0" cy="827.6" r="7.2"/><circle cx="934.0" cy="868.7" r="7.2"/><circle cx="944.9" cy="847.0" r="7.2"/><circle cx="955.9" cy="847.3" r="7.2"/><circle cx="966.8" cy="914.8" r="7.2"/><circle cx="977.8" cy="939.5" r="7.2"/><circle cx="988.7" cy="965.4" r="7.2"/><circle cx="999.7" cy="1059.1" r="7.2"/><circle cx="1010.6" cy="1060.2" r="7.2"/><circle cx="1021.6" cy="997.3" r="7.2"/><circle cx="1032.5" cy="1068.2" r="7.2"/><circle cx="1043.5" cy="1071.7" r="7.2"/><circle cx="1054.4" cy="1021.8" r="7.2"/><circle cx="1065.4" cy="984.3" r="7.2"/><circle cx="1076.3" cy="1060.8" r="7.2"/><circle cx="1087.3" cy="1060.8" r="7.2"/><circle cx="1098.2" cy="1060.8" r="7.2"/><circle cx="1109.2" cy="1060.8" r="7.2"/><circle cx="1120.2" cy="1060.8" r="7.2"/><circle cx="1131.1" cy="1060.8" r="7.2"/><circle cx="1142.1" cy="1060.8" r="7.2"/><circle cx="1153.0" cy="1043.9" r="7.2"/><circle cx="1164.0" cy="1067.3" r="7.2"/><circle cx="1174.9" cy="1060.2" r="7.2"/><circle cx="1185.9" cy="1081.9" r="7.2"/><circle cx="1196.8" cy="1043.5" r="7.2"/><circle cx="1207.8" cy="1038.5" r="7.2"/><circle cx="1218.7" cy="1053.7" r="7.2"/><circle cx="1229.7" cy="1040.0" r="7.2"/><circle cx="1240.6" cy="1067.8" r="7.2"/><circle cx="1251.6" cy="1048.7" r="7.2"/><circle cx="1262.5" cy="1049.3" r="7.2"/><circle cx="1273.5" cy="971.2" r="7.2"/><circle cx="1284.4" cy="943.0" r="7.2"/><circle cx="1295.4" cy="872.5" r="7.2"/><circle cx="1306.3" cy="944.8" r="7.2"/><circle cx="1317.3" cy="873.4" r="7.2"/><circle cx="1328.2" cy="852.6" r="7.2"/><circle cx="1339.2" cy="853.5" r="7.2"/><circle cx="1350.1" cy="808.6" r="7.2"/><circle cx="1361.1" cy="745.7" r="7.2"/><circle cx="1372.0" cy="767.2" r="7.2"/><circle cx="1383.0" cy="721.9" r="7.2"/></g>
</svg></body></html>
